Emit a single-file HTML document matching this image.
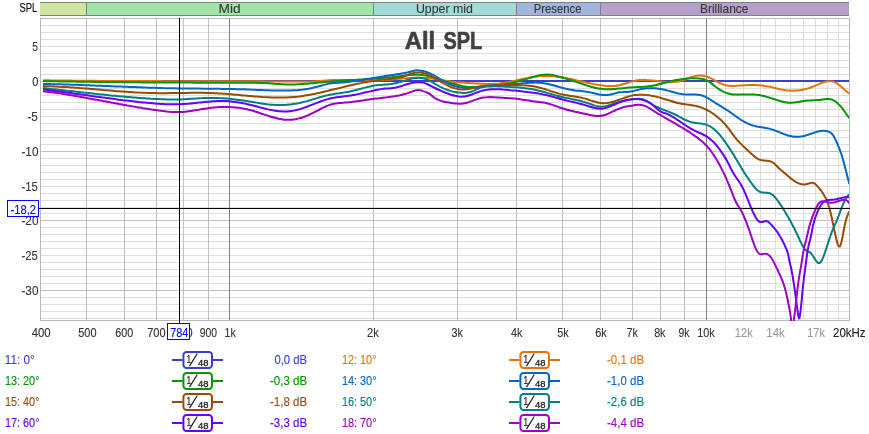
<!DOCTYPE html>
<html lang="en"><head><meta charset="utf-8"><title>All SPL</title>
<style>html,body{margin:0;padding:0;background:#fff;overflow:hidden}svg{display:block}text{font-family:"Liberation Sans", sans-serif;}</style>
</head><body>
<svg width="869" height="434" viewBox="0 0 869 434">
<rect x="0" y="0" width="869" height="434" fill="#ffffff"/>
<g shape-rendering="crispEdges">
<rect x="40" y="2" width="809" height="14" fill="#808080"/>
<rect x="40" y="3" width="46" height="12" fill="#cde89e"/>
<rect x="87" y="3" width="286" height="12" fill="#a0e4a8"/>
<rect x="374" y="3" width="142" height="12" fill="#a0dcd6"/>
<rect x="517" y="3" width="83" height="12" fill="#a0b4dc"/>
<rect x="601" y="3" width="248" height="12" fill="#b4a0c8"/>
</g>
<text x="218.51" y="12.60" font-size="12.20px" fill="#383838" textLength="22.03" lengthAdjust="spacingAndGlyphs" stroke="#383838" stroke-width="0.12">Mid</text>
<text x="415.92" y="12.60" font-size="12.20px" fill="#383838" textLength="56.90" lengthAdjust="spacingAndGlyphs" stroke="#383838" stroke-width="0.12">Upper mid</text>
<text x="533.80" y="12.60" font-size="12.20px" fill="#383838" textLength="47.65" lengthAdjust="spacingAndGlyphs" stroke="#383838" stroke-width="0.12">Presence</text>
<text x="699.94" y="12.60" font-size="12.20px" fill="#383838" textLength="48.46" lengthAdjust="spacingAndGlyphs" stroke="#383838" stroke-width="0.12">Brilliance</text>
<g shape-rendering="crispEdges">
<rect x="41" y="25" width="808" height="1" fill="#dedede"/>
<rect x="41" y="32" width="808" height="1" fill="#dedede"/>
<rect x="41" y="39" width="808" height="1" fill="#dedede"/>
<rect x="41" y="46" width="808" height="1" fill="#dedede"/>
<rect x="41" y="53" width="808" height="1" fill="#dedede"/>
<rect x="41" y="60" width="808" height="1" fill="#dedede"/>
<rect x="41" y="67" width="808" height="1" fill="#dedede"/>
<rect x="41" y="74" width="808" height="1" fill="#dedede"/>
<rect x="41" y="81" width="808" height="1" fill="#c0c0c0"/>
<rect x="41" y="88" width="808" height="1" fill="#dedede"/>
<rect x="41" y="95" width="808" height="1" fill="#dedede"/>
<rect x="41" y="102" width="808" height="1" fill="#dedede"/>
<rect x="41" y="109" width="808" height="1" fill="#dedede"/>
<rect x="41" y="116" width="808" height="1" fill="#dedede"/>
<rect x="41" y="123" width="808" height="1" fill="#dedede"/>
<rect x="41" y="130" width="808" height="1" fill="#dedede"/>
<rect x="41" y="137" width="808" height="1" fill="#dedede"/>
<rect x="41" y="144" width="808" height="1" fill="#dedede"/>
<rect x="41" y="151" width="808" height="1" fill="#c0c0c0"/>
<rect x="41" y="158" width="808" height="1" fill="#dedede"/>
<rect x="41" y="165" width="808" height="1" fill="#dedede"/>
<rect x="41" y="172" width="808" height="1" fill="#dedede"/>
<rect x="41" y="179" width="808" height="1" fill="#dedede"/>
<rect x="41" y="186" width="808" height="1" fill="#dedede"/>
<rect x="41" y="193" width="808" height="1" fill="#dedede"/>
<rect x="41" y="200" width="808" height="1" fill="#dedede"/>
<rect x="41" y="207" width="808" height="1" fill="#dedede"/>
<rect x="41" y="213" width="808" height="1" fill="#dedede"/>
<rect x="41" y="220" width="808" height="1" fill="#c0c0c0"/>
<rect x="41" y="227" width="808" height="1" fill="#dedede"/>
<rect x="41" y="234" width="808" height="1" fill="#dedede"/>
<rect x="41" y="241" width="808" height="1" fill="#dedede"/>
<rect x="41" y="248" width="808" height="1" fill="#dedede"/>
<rect x="41" y="255" width="808" height="1" fill="#dedede"/>
<rect x="41" y="262" width="808" height="1" fill="#dedede"/>
<rect x="41" y="269" width="808" height="1" fill="#dedede"/>
<rect x="41" y="276" width="808" height="1" fill="#dedede"/>
<rect x="41" y="283" width="808" height="1" fill="#dedede"/>
<rect x="41" y="290" width="808" height="1" fill="#c0c0c0"/>
<rect x="41" y="297" width="808" height="1" fill="#dedede"/>
<rect x="41" y="304" width="808" height="1" fill="#dedede"/>
<rect x="41" y="311" width="808" height="1" fill="#dedede"/>
<rect x="41" y="318" width="808" height="1" fill="#dedede"/>
<rect x="86" y="19" width="1" height="301" fill="#c0c0c0"/>
<rect x="124" y="19" width="1" height="301" fill="#c0c0c0"/>
<rect x="156" y="19" width="1" height="301" fill="#c0c0c0"/>
<rect x="183" y="19" width="1" height="301" fill="#c0c0c0"/>
<rect x="208" y="19" width="1" height="301" fill="#c0c0c0"/>
<rect x="229" y="19" width="1" height="301" fill="#808080"/>
<rect x="373" y="19" width="1" height="301" fill="#c0c0c0"/>
<rect x="457" y="19" width="1" height="301" fill="#c0c0c0"/>
<rect x="516" y="19" width="1" height="301" fill="#c0c0c0"/>
<rect x="562" y="19" width="1" height="301" fill="#c0c0c0"/>
<rect x="600" y="19" width="1" height="301" fill="#c0c0c0"/>
<rect x="632" y="19" width="1" height="301" fill="#c0c0c0"/>
<rect x="660" y="19" width="1" height="301" fill="#c0c0c0"/>
<rect x="684" y="19" width="1" height="301" fill="#c0c0c0"/>
<rect x="706" y="19" width="1" height="301" fill="#808080"/>
<rect x="725" y="19" width="1" height="301" fill="#dcdcdc"/>
<rect x="743" y="19" width="1" height="301" fill="#dcdcdc"/>
<rect x="760" y="19" width="1" height="301" fill="#dcdcdc"/>
<rect x="775" y="19" width="1" height="301" fill="#dcdcdc"/>
<rect x="790" y="19" width="1" height="301" fill="#dcdcdc"/>
<rect x="803" y="19" width="1" height="301" fill="#dcdcdc"/>
<rect x="815" y="19" width="1" height="301" fill="#dcdcdc"/>
<rect x="827" y="19" width="1" height="301" fill="#dcdcdc"/>
<rect x="838" y="19" width="1" height="301" fill="#dcdcdc"/>
<rect x="40" y="18" width="810" height="1" fill="#b8b8b8"/>
<rect x="40" y="320" width="810" height="1" fill="#b8b8b8"/>
<rect x="40" y="18" width="1" height="303" fill="#b8b8b8"/>
<rect x="849" y="18" width="1" height="303" fill="#b8b8b8"/>
</g>
<text y="48.8" font-size="24.4px" font-weight="bold" fill="#404040" stroke="#404040" stroke-width="0.6"><tspan x="404.71" textLength="30.41" lengthAdjust="spacingAndGlyphs">All</tspan> <tspan x="443.50" textLength="38.69" lengthAdjust="spacingAndGlyphs">SPL</tspan></text>
<defs><clipPath id="cp"><rect x="41" y="19" width="808" height="302"/></clipPath></defs>
<g clip-path="url(#cp)" fill="none" stroke-width="2" stroke-linejoin="round" stroke-linecap="butt">
<path d="M43 81H849" stroke="#3d3dcf"/>
<path d="M43.0 80.3C44.3 80.3 45.7 80.3 47.0 80.3C48.3 80.3 49.7 80.4 51.0 80.4C52.3 80.4 53.7 80.4 55.0 80.4C56.3 80.5 57.7 80.5 59.0 80.5C60.3 80.5 61.7 80.5 63.0 80.5C64.3 80.6 65.7 80.6 67.0 80.6C68.3 80.6 69.7 80.6 71.0 80.6C72.3 80.6 73.7 80.7 75.0 80.7C76.3 80.7 77.7 80.7 79.0 80.7C80.3 80.7 81.7 80.7 83.0 80.7C84.3 80.8 85.7 80.8 87.0 80.8C88.3 80.8 89.7 80.8 91.0 80.8C92.3 80.8 93.7 80.8 95.0 80.8C96.3 80.9 97.7 80.9 99.0 80.9C100.3 80.9 101.7 80.9 103.0 80.9C104.3 80.9 105.7 80.9 107.0 80.9C108.3 80.9 109.7 80.9 111.0 81.0C112.3 81.0 113.7 81.0 115.0 81.0C116.3 81.0 117.7 81.0 119.0 81.0C120.3 81.0 121.7 81.0 123.0 81.0C124.3 81.0 125.7 81.0 127.0 81.0C128.3 81.0 129.7 81.1 131.0 81.1C132.3 81.1 133.7 81.1 135.0 81.1C136.3 81.1 137.7 81.1 139.0 81.1C140.3 81.1 141.7 81.1 143.0 81.1C144.3 81.1 145.7 81.1 147.0 81.1C148.3 81.1 149.7 81.1 151.0 81.1C152.3 81.1 153.7 81.1 155.0 81.1C156.3 81.1 157.7 81.1 159.0 81.1C160.3 81.1 161.7 81.1 163.0 81.2C164.3 81.2 165.7 81.2 167.0 81.2C168.3 81.2 169.7 81.2 171.0 81.2C172.3 81.2 173.7 81.2 175.0 81.2C176.3 81.2 177.7 81.2 179.0 81.2C180.3 81.2 181.7 81.2 183.0 81.2C184.3 81.2 185.7 81.2 187.0 81.2C188.3 81.2 189.7 81.2 191.0 81.2C192.3 81.2 193.7 81.2 195.0 81.2C196.3 81.2 197.7 81.2 199.0 81.2C200.3 81.2 201.7 81.2 203.0 81.2C204.3 81.2 205.7 81.2 207.0 81.2C208.3 81.2 209.7 81.2 211.0 81.2C212.3 81.2 213.7 81.2 215.0 81.2C216.3 81.2 217.7 81.2 219.0 81.2C220.3 81.2 221.7 81.2 223.0 81.2C224.3 81.2 225.7 81.2 227.0 81.2C228.3 81.2 229.7 81.2 231.0 81.2C232.3 81.2 233.7 81.2 235.0 81.2C236.3 81.3 237.7 81.3 239.0 81.3C240.3 81.3 241.7 81.3 243.0 81.3C244.3 81.3 245.7 81.3 247.0 81.3C248.3 81.3 249.7 81.3 251.0 81.3C252.3 81.3 253.7 81.3 255.0 81.3C256.3 81.3 257.7 81.3 259.0 81.3C260.3 81.3 261.7 81.3 263.0 81.3C264.3 81.4 265.7 81.4 267.0 81.4C268.3 81.4 269.7 81.4 271.0 81.4C272.3 81.4 273.7 81.4 275.0 81.4C276.3 81.5 277.7 81.5 279.0 81.5C280.3 81.5 281.7 81.5 283.0 81.5C284.3 81.5 285.7 81.6 287.0 81.6C288.3 81.6 289.7 81.6 291.0 81.6C292.3 81.6 293.7 81.6 295.0 81.6C296.3 81.6 297.7 81.6 299.0 81.6C300.3 81.6 301.7 81.6 303.0 81.6C304.3 81.6 305.7 81.6 307.0 81.5C308.3 81.5 309.7 81.5 311.0 81.4C312.3 81.4 313.7 81.3 315.0 81.2C316.3 81.2 317.7 81.1 319.0 81.0C320.3 80.9 321.7 80.8 323.0 80.7C324.3 80.6 325.7 80.5 327.0 80.4C328.3 80.3 329.7 80.2 331.0 80.1C332.3 80.0 333.7 80.0 335.0 80.0C336.3 79.9 337.7 79.9 339.0 79.9C340.3 79.9 341.7 79.9 343.0 79.9C344.3 80.0 345.7 80.0 347.0 80.0C348.3 80.0 349.7 80.1 351.0 80.1C352.3 80.2 353.7 80.2 355.0 80.3C356.3 80.3 357.7 80.4 359.0 80.4C360.3 80.4 361.7 80.5 363.0 80.5C364.3 80.5 365.7 80.6 367.0 80.6C368.3 80.6 369.7 80.6 371.0 80.6C372.3 80.6 373.7 80.5 375.0 80.5C376.3 80.5 377.7 80.4 379.0 80.3C380.3 80.3 381.7 80.2 383.0 80.1C384.3 80.0 385.7 79.9 387.0 79.8C388.3 79.7 389.7 79.6 391.0 79.5C392.3 79.4 393.7 79.2 395.0 79.1C396.3 79.0 397.7 78.9 399.0 78.8C400.3 78.7 401.7 78.6 403.0 78.5C404.3 78.4 405.7 78.3 407.0 78.2C408.3 78.1 409.7 78.0 411.0 77.9C412.3 77.9 413.7 77.8 415.0 77.8C416.3 77.7 417.7 77.7 419.0 77.7C420.3 77.7 421.7 77.7 423.0 77.8C424.3 77.8 425.7 77.9 427.0 78.0C428.3 78.1 429.7 78.3 431.0 78.4C432.3 78.6 433.7 78.8 435.0 79.0C436.3 79.2 437.7 79.4 439.0 79.6C440.3 79.8 441.7 80.0 443.0 80.3C444.3 80.5 445.7 80.7 447.0 80.9C448.3 81.1 449.7 81.3 451.0 81.5C452.3 81.6 453.7 81.8 455.0 81.9C456.3 82.1 457.7 82.2 459.0 82.3C460.3 82.4 461.7 82.5 463.0 82.6C464.3 82.7 465.7 82.8 467.0 82.9C468.3 83.0 469.7 83.1 471.0 83.2C472.3 83.3 473.7 83.3 475.0 83.4C476.3 83.5 477.7 83.6 479.0 83.6C480.3 83.7 481.7 83.8 483.0 83.8C484.3 83.9 485.7 83.9 487.0 83.9C488.3 83.9 489.7 83.9 491.0 83.9C492.3 83.9 493.7 83.8 495.0 83.8C496.3 83.7 497.7 83.6 499.0 83.5C500.3 83.3 501.7 83.2 503.0 83.0C504.3 82.8 505.7 82.6 507.0 82.3C508.3 82.1 509.7 81.8 511.0 81.6C512.3 81.3 513.7 81.0 515.0 80.7C516.3 80.4 517.7 80.1 519.0 79.8C520.3 79.5 521.7 79.2 523.0 78.9C524.3 78.6 525.7 78.4 527.0 78.1C528.3 77.8 529.7 77.6 531.0 77.3C532.3 77.1 533.7 76.9 535.0 76.7C536.3 76.5 537.7 76.4 539.0 76.2C540.3 76.1 541.7 76.0 543.0 76.0C544.3 75.9 545.7 75.9 547.0 76.0C548.3 76.0 549.7 76.0 551.0 76.1C552.3 76.2 553.7 76.3 555.0 76.5C556.3 76.6 557.7 76.8 559.0 77.0C560.3 77.2 561.7 77.4 563.0 77.6C564.3 77.8 565.7 78.1 567.0 78.3C568.3 78.6 569.7 78.9 571.0 79.1C572.3 79.4 573.7 79.7 575.0 80.0C576.3 80.3 577.7 80.6 579.0 80.9C580.3 81.2 581.7 81.5 583.0 81.8C584.3 82.1 585.7 82.4 587.0 82.7C588.3 83.0 589.7 83.3 591.0 83.6C592.3 83.8 593.7 84.1 595.0 84.4C596.3 84.6 597.7 84.8 599.0 85.1C600.3 85.3 601.7 85.5 603.0 85.6C604.3 85.8 605.7 85.9 607.0 86.0C608.3 86.1 609.7 86.1 611.0 86.1C612.3 86.1 613.7 86.0 615.0 85.9C616.3 85.8 617.7 85.6 619.0 85.3C620.3 85.0 621.7 84.7 623.0 84.3C624.3 83.9 625.7 83.5 627.0 83.0C628.3 82.6 629.7 82.1 631.0 81.7C632.3 81.3 633.7 80.9 635.0 80.7C636.3 80.4 637.7 80.2 639.0 80.1C640.3 79.9 641.7 79.9 643.0 79.9C644.3 79.8 645.7 79.9 647.0 80.0C648.3 80.0 649.7 80.1 651.0 80.3C652.3 80.4 653.7 80.6 655.0 80.7C656.3 80.9 657.7 81.1 659.0 81.2C660.3 81.4 661.7 81.5 663.0 81.7C664.3 81.8 665.7 81.9 667.0 82.0C668.3 82.1 669.7 82.1 671.0 82.1C672.3 82.1 673.7 82.1 675.0 81.9C676.3 81.8 677.7 81.6 679.0 81.4C680.3 81.1 681.7 80.8 683.0 80.3C684.3 79.9 685.7 79.4 687.0 78.8C688.3 78.3 689.7 77.8 691.0 77.3C692.3 76.8 693.7 76.4 695.0 76.1C696.3 75.8 697.7 75.6 699.0 75.6C700.3 75.6 701.7 75.6 703.0 75.8C703.7 75.9 704.3 76.1 705.0 76.2C705.7 76.4 706.3 76.6 707.0 76.8C707.7 77.0 708.3 77.2 709.0 77.5C709.7 77.8 710.3 78.1 711.0 78.4C711.7 78.7 712.3 79.1 713.0 79.4C713.7 79.8 714.3 80.1 715.0 80.5C715.7 80.9 716.3 81.2 717.0 81.6C717.7 82.0 718.3 82.3 719.0 82.7C719.7 83.0 720.3 83.3 721.0 83.6C721.7 83.9 722.3 84.2 723.0 84.4C723.7 84.7 724.3 84.9 725.0 85.1C725.7 85.2 726.3 85.4 727.0 85.5C727.7 85.6 728.3 85.7 729.0 85.7C729.7 85.8 730.3 85.9 731.0 85.9C731.7 85.9 732.3 85.9 733.0 85.9C733.7 85.9 734.3 85.9 735.0 85.9C735.7 85.8 736.3 85.8 737.0 85.7C737.7 85.7 738.3 85.7 739.0 85.6C739.7 85.6 740.3 85.5 741.0 85.5C741.7 85.4 742.3 85.4 743.0 85.3C743.7 85.3 744.3 85.2 745.0 85.2C745.7 85.1 746.3 85.1 747.0 85.1C747.7 85.0 748.3 85.0 749.0 85.0C749.7 85.0 750.3 85.0 751.0 84.9C751.7 84.9 752.3 84.9 753.0 84.9C753.7 84.9 754.3 84.9 755.0 85.0C755.7 85.0 756.3 85.0 757.0 85.1C757.7 85.1 758.3 85.1 759.0 85.2C759.7 85.3 760.3 85.3 761.0 85.4C761.7 85.5 762.3 85.5 763.0 85.6C763.7 85.7 764.3 85.8 765.0 85.9C765.7 86.0 766.3 86.1 767.0 86.3C767.7 86.4 768.3 86.5 769.0 86.6C769.7 86.8 770.3 86.9 771.0 87.0C771.3 87.1 771.7 87.2 772.0 87.3C772.3 87.3 772.7 87.4 773.0 87.5C773.3 87.6 773.7 87.7 774.0 87.7C774.3 87.8 774.7 87.9 775.0 88.0C775.3 88.1 775.7 88.1 776.0 88.2C776.3 88.3 776.7 88.4 777.0 88.5C777.3 88.5 777.7 88.6 778.0 88.7C778.3 88.8 778.7 88.9 779.0 88.9C779.3 89.0 779.7 89.1 780.0 89.2C780.3 89.2 780.7 89.3 781.0 89.4C781.3 89.5 781.7 89.5 782.0 89.6C782.3 89.7 782.7 89.7 783.0 89.8C783.3 89.8 783.7 89.9 784.0 90.0C784.3 90.0 784.7 90.1 785.0 90.1C785.3 90.2 785.7 90.2 786.0 90.3C786.3 90.3 786.7 90.3 787.0 90.4C787.3 90.4 787.7 90.5 788.0 90.5C788.3 90.5 788.7 90.5 789.0 90.6C789.3 90.6 789.7 90.6 790.0 90.6C790.3 90.6 790.7 90.7 791.0 90.7C791.3 90.7 791.7 90.7 792.0 90.7C792.3 90.7 792.7 90.7 793.0 90.7C793.3 90.7 793.7 90.7 794.0 90.7C794.3 90.7 794.7 90.6 795.0 90.6C795.3 90.6 795.7 90.6 796.0 90.6C796.3 90.5 796.7 90.5 797.0 90.5C797.3 90.5 797.7 90.4 798.0 90.4C798.3 90.4 798.7 90.3 799.0 90.3C799.3 90.2 799.7 90.2 800.0 90.1C800.3 90.1 800.7 90.0 801.0 90.0C801.3 89.9 801.7 89.9 802.0 89.8C802.3 89.8 802.7 89.7 803.0 89.6C803.3 89.6 803.7 89.5 804.0 89.4C804.3 89.3 804.7 89.3 805.0 89.2C805.3 89.1 805.7 89.0 806.0 88.9C806.3 88.8 806.7 88.7 807.0 88.7C807.3 88.6 807.7 88.5 808.0 88.4C808.3 88.3 808.7 88.2 809.0 88.1C809.3 87.9 809.7 87.8 810.0 87.7C810.3 87.6 810.7 87.5 811.0 87.4C811.3 87.3 811.7 87.1 812.0 87.0C812.3 86.9 812.7 86.8 813.0 86.6C813.3 86.5 813.7 86.4 814.0 86.2C814.3 86.1 814.7 85.9 815.0 85.8C815.3 85.7 815.7 85.5 816.0 85.4C816.3 85.2 816.7 85.1 817.0 84.9C817.3 84.8 817.7 84.6 818.0 84.5C818.3 84.3 818.7 84.2 819.0 84.1C819.3 83.9 819.7 83.8 820.0 83.6C820.3 83.5 820.7 83.4 821.0 83.2C821.3 83.1 821.7 83.0 822.0 82.8C822.3 82.7 822.7 82.6 823.0 82.5C823.3 82.4 823.7 82.3 824.0 82.2C824.3 82.1 824.7 82.0 825.0 81.9C825.3 81.8 825.7 81.7 826.0 81.6C826.3 81.6 826.7 81.5 827.0 81.4C827.3 81.4 827.7 81.3 828.0 81.3C828.3 81.3 828.7 81.2 829.0 81.2C829.3 81.2 829.7 81.2 830.0 81.2C830.3 81.2 830.7 81.2 831.0 81.3C831.3 81.3 831.7 81.3 832.0 81.4C832.3 81.5 832.7 81.5 833.0 81.6C833.3 81.7 833.7 81.8 834.0 81.9C834.3 82.0 834.7 82.2 835.0 82.3C835.3 82.5 835.7 82.6 836.0 82.8C836.3 83.0 836.7 83.2 837.0 83.4C837.3 83.6 837.7 83.8 838.0 84.1C838.3 84.3 838.7 84.6 839.0 84.8C839.3 85.1 839.7 85.4 840.0 85.6C840.3 85.9 840.7 86.2 841.0 86.5C841.3 86.8 841.7 87.1 842.0 87.4C842.3 87.7 842.7 88.0 843.0 88.3C843.3 88.6 843.7 88.9 844.0 89.2C844.3 89.5 844.7 89.8 845.0 90.1C845.3 90.4 845.7 90.7 846.0 91.0C846.3 91.3 846.7 91.6 847.0 91.8C847.3 92.1 847.7 92.4 848.0 92.7C848.3 92.9 848.7 93.2 849.0 93.4C849.1 93.5 849.2 93.6 849.3 93.6" stroke="#e8730a"/>
<path d="M43.0 81.1C44.3 81.1 45.7 81.2 47.0 81.2C48.3 81.2 49.7 81.2 51.0 81.2C52.3 81.3 53.7 81.3 55.0 81.3C56.3 81.3 57.7 81.4 59.0 81.4C60.3 81.4 61.7 81.4 63.0 81.4C64.3 81.5 65.7 81.5 67.0 81.5C68.3 81.5 69.7 81.5 71.0 81.6C72.3 81.6 73.7 81.6 75.0 81.6C76.3 81.6 77.7 81.7 79.0 81.7C80.3 81.7 81.7 81.7 83.0 81.7C84.3 81.8 85.7 81.8 87.0 81.8C88.3 81.8 89.7 81.8 91.0 81.8C92.3 81.9 93.7 81.9 95.0 81.9C96.3 81.9 97.7 81.9 99.0 81.9C100.3 82.0 101.7 82.0 103.0 82.0C104.3 82.0 105.7 82.0 107.0 82.0C108.3 82.0 109.7 82.1 111.0 82.1C112.3 82.1 113.7 82.1 115.0 82.1C116.3 82.1 117.7 82.1 119.0 82.1C120.3 82.2 121.7 82.2 123.0 82.2C124.3 82.2 125.7 82.2 127.0 82.2C128.3 82.2 129.7 82.2 131.0 82.3C132.3 82.3 133.7 82.3 135.0 82.3C136.3 82.3 137.7 82.3 139.0 82.3C140.3 82.3 141.7 82.3 143.0 82.4C144.3 82.4 145.7 82.4 147.0 82.4C148.3 82.4 149.7 82.4 151.0 82.4C152.3 82.4 153.7 82.4 155.0 82.4C156.3 82.4 157.7 82.5 159.0 82.5C160.3 82.5 161.7 82.5 163.0 82.5C164.3 82.5 165.7 82.5 167.0 82.5C168.3 82.5 169.7 82.5 171.0 82.5C172.3 82.5 173.7 82.6 175.0 82.6C176.3 82.6 177.7 82.6 179.0 82.6C180.3 82.6 181.7 82.6 183.0 82.6C184.3 82.6 185.7 82.6 187.0 82.6C188.3 82.6 189.7 82.6 191.0 82.6C192.3 82.6 193.7 82.6 195.0 82.7C196.3 82.7 197.7 82.7 199.0 82.7C200.3 82.7 201.7 82.7 203.0 82.7C204.3 82.7 205.7 82.7 207.0 82.7C208.3 82.7 209.7 82.7 211.0 82.7C212.3 82.7 213.7 82.7 215.0 82.7C216.3 82.7 217.7 82.7 219.0 82.7C220.3 82.7 221.7 82.8 223.0 82.8C224.3 82.8 225.7 82.8 227.0 82.8C228.3 82.8 229.7 82.8 231.0 82.8C232.3 82.8 233.7 82.8 235.0 82.8C236.3 82.8 237.7 82.8 239.0 82.8C240.3 82.8 241.7 82.8 243.0 82.8C244.3 82.8 245.7 82.8 247.0 82.8C248.3 82.8 249.7 82.8 251.0 82.8C252.3 82.8 253.7 82.8 255.0 82.8C256.3 82.9 257.7 82.9 259.0 82.9C260.3 82.9 261.7 82.9 263.0 83.0C264.3 83.0 265.7 83.1 267.0 83.1C268.3 83.2 269.7 83.3 271.0 83.4C272.3 83.5 273.7 83.6 275.0 83.8C276.3 83.9 277.7 84.0 279.0 84.1C280.3 84.2 281.7 84.3 283.0 84.3C284.3 84.4 285.7 84.4 287.0 84.4C288.3 84.5 289.7 84.5 291.0 84.5C292.3 84.4 293.7 84.4 295.0 84.4C296.3 84.3 297.7 84.3 299.0 84.2C300.3 84.1 301.7 84.1 303.0 84.0C304.3 83.9 305.7 83.8 307.0 83.7C308.3 83.6 309.7 83.5 311.0 83.3C312.3 83.2 313.7 83.1 315.0 83.0C316.3 82.9 317.7 82.7 319.0 82.6C320.3 82.5 321.7 82.3 323.0 82.2C324.3 82.1 325.7 82.0 327.0 81.8C328.3 81.7 329.7 81.6 331.0 81.5C332.3 81.4 333.7 81.3 335.0 81.2C336.3 81.1 337.7 81.0 339.0 80.9C340.3 80.8 341.7 80.7 343.0 80.6C344.3 80.5 345.7 80.4 347.0 80.3C348.3 80.2 349.7 80.2 351.0 80.1C352.3 80.0 353.7 79.9 355.0 79.9C356.3 79.8 357.7 79.7 359.0 79.6C360.3 79.5 361.7 79.5 363.0 79.4C364.3 79.3 365.7 79.2 367.0 79.1C368.3 79.1 369.7 79.0 371.0 78.9C372.3 78.8 373.7 78.7 375.0 78.6C376.3 78.5 377.7 78.4 379.0 78.3C380.3 78.2 381.7 78.1 383.0 78.0C384.3 77.9 385.7 77.7 387.0 77.6C388.3 77.5 389.7 77.3 391.0 77.2C392.3 77.0 393.7 76.9 395.0 76.7C396.3 76.6 397.7 76.4 399.0 76.2C400.3 76.0 401.7 75.9 403.0 75.7C404.3 75.5 405.7 75.4 407.0 75.2C408.3 75.1 409.7 75.0 411.0 74.9C412.3 74.8 413.7 74.7 415.0 74.7C416.3 74.7 417.7 74.7 419.0 74.8C420.3 74.8 421.7 74.9 423.0 75.1C424.3 75.3 425.7 75.5 427.0 75.8C428.3 76.1 429.7 76.4 431.0 76.8C432.3 77.2 433.7 77.6 435.0 78.0C436.3 78.4 437.7 78.9 439.0 79.3C440.3 79.8 441.7 80.2 443.0 80.6C444.3 81.1 445.7 81.5 447.0 81.9C448.3 82.4 449.7 82.8 451.0 83.2C452.3 83.6 453.7 83.9 455.0 84.3C456.3 84.7 457.7 85.0 459.0 85.3C460.3 85.6 461.7 85.9 463.0 86.2C464.3 86.4 465.7 86.6 467.0 86.8C468.3 86.9 469.7 87.0 471.0 87.0C472.3 87.0 473.7 87.0 475.0 86.9C476.3 86.8 477.7 86.7 479.0 86.5C480.3 86.4 481.7 86.3 483.0 86.2C484.3 86.1 485.7 86.0 487.0 85.9C488.3 85.8 489.7 85.7 491.0 85.6C492.3 85.5 493.7 85.4 495.0 85.3C496.3 85.2 497.7 85.1 499.0 85.0C500.3 84.8 501.7 84.7 503.0 84.5C504.3 84.3 505.7 84.1 507.0 83.8C508.3 83.6 509.7 83.4 511.0 83.1C512.3 82.8 513.7 82.5 515.0 82.2C516.3 81.8 517.7 81.5 519.0 81.1C520.3 80.8 521.7 80.4 523.0 80.0C524.3 79.6 525.7 79.2 527.0 78.8C528.3 78.4 529.7 77.9 531.0 77.5C532.3 77.1 533.7 76.7 535.0 76.4C536.3 76.0 537.7 75.7 539.0 75.4C540.3 75.1 541.7 74.9 543.0 74.8C544.3 74.6 545.7 74.5 547.0 74.5C548.3 74.5 549.7 74.6 551.0 74.8C552.3 75.0 553.7 75.3 555.0 75.6C556.3 75.9 557.7 76.3 559.0 76.6C560.3 77.0 561.7 77.4 563.0 77.8C564.3 78.2 565.7 78.6 567.0 79.0C568.3 79.4 569.7 79.8 571.0 80.2C572.3 80.7 573.7 81.1 575.0 81.5C576.3 81.9 577.7 82.4 579.0 82.8C580.3 83.3 581.7 83.8 583.0 84.2C584.3 84.6 585.7 85.1 587.0 85.5C588.3 85.9 589.7 86.3 591.0 86.7C592.3 87.1 593.7 87.4 595.0 87.8C596.3 88.1 597.7 88.3 599.0 88.6C600.3 88.8 601.7 89.0 603.0 89.1C604.3 89.2 605.7 89.2 607.0 89.3C608.3 89.3 609.7 89.3 611.0 89.2C612.3 89.1 613.7 89.1 615.0 89.0C616.3 88.8 617.7 88.7 619.0 88.6C620.3 88.4 621.7 88.3 623.0 88.2C624.3 88.0 625.7 87.9 627.0 87.7C628.3 87.6 629.7 87.5 631.0 87.4C632.3 87.3 633.7 87.3 635.0 87.2C636.3 87.1 637.7 87.1 639.0 87.0C640.3 86.9 641.7 86.9 643.0 86.8C644.3 86.7 645.7 86.6 647.0 86.5C648.3 86.4 649.7 86.2 651.0 86.0C652.3 85.8 653.7 85.6 655.0 85.3C656.3 85.0 657.7 84.7 659.0 84.3C660.3 84.0 661.7 83.6 663.0 83.2C664.3 82.9 665.7 82.5 667.0 82.2C668.3 81.8 669.7 81.5 671.0 81.2C672.3 80.9 673.7 80.6 675.0 80.3C676.3 80.0 677.7 79.8 679.0 79.6C680.3 79.3 681.7 79.2 683.0 79.0C684.3 78.8 685.7 78.7 687.0 78.5C688.3 78.4 689.7 78.3 691.0 78.3C692.3 78.2 693.7 78.2 695.0 78.2C696.3 78.2 697.7 78.3 699.0 78.4C700.3 78.5 701.7 78.7 703.0 79.1C703.7 79.2 704.3 79.4 705.0 79.7C705.7 79.9 706.3 80.2 707.0 80.6C707.7 80.9 708.3 81.3 709.0 81.7C709.7 82.1 710.3 82.6 711.0 83.1C711.7 83.6 712.3 84.1 713.0 84.6C713.7 85.1 714.3 85.6 715.0 86.2C715.7 86.7 716.3 87.2 717.0 87.7C717.7 88.2 718.3 88.7 719.0 89.2C719.7 89.6 720.3 90.0 721.0 90.4C721.7 90.8 722.3 91.2 723.0 91.5C723.7 91.9 724.3 92.2 725.0 92.4C725.7 92.7 726.3 93.0 727.0 93.2C727.7 93.4 728.3 93.6 729.0 93.7C729.7 93.9 730.3 94.0 731.0 94.2C731.7 94.3 732.3 94.4 733.0 94.4C733.7 94.5 734.3 94.5 735.0 94.6C735.7 94.6 736.3 94.6 737.0 94.6C737.7 94.7 738.3 94.7 739.0 94.6C739.7 94.6 740.3 94.6 741.0 94.6C741.7 94.6 742.3 94.6 743.0 94.5C743.7 94.5 744.3 94.5 745.0 94.5C745.7 94.5 746.3 94.4 747.0 94.4C747.7 94.4 748.3 94.4 749.0 94.4C749.7 94.4 750.3 94.4 751.0 94.4C751.7 94.4 752.3 94.4 753.0 94.5C753.7 94.5 754.3 94.5 755.0 94.6C755.7 94.6 756.3 94.7 757.0 94.8C757.7 94.8 758.3 94.9 759.0 95.0C759.7 95.1 760.3 95.2 761.0 95.4C761.7 95.5 762.3 95.6 763.0 95.8C763.7 96.0 764.3 96.1 765.0 96.3C765.7 96.5 766.3 96.7 767.0 96.9C767.7 97.1 768.3 97.3 769.0 97.5C769.7 97.7 770.3 97.9 771.0 98.1C771.3 98.2 771.7 98.3 772.0 98.4C772.3 98.6 772.7 98.7 773.0 98.8C773.3 98.9 773.7 99.0 774.0 99.1C774.3 99.2 774.7 99.3 775.0 99.4C775.3 99.6 775.7 99.7 776.0 99.8C776.3 99.9 776.7 100.0 777.0 100.1C777.3 100.2 777.7 100.3 778.0 100.4C778.3 100.5 778.7 100.6 779.0 100.7C779.3 100.8 779.7 100.9 780.0 101.0C780.3 101.1 780.7 101.2 781.0 101.3C781.3 101.4 781.7 101.5 782.0 101.6C782.3 101.7 782.7 101.7 783.0 101.8C783.3 101.9 783.7 102.0 784.0 102.0C784.3 102.1 784.7 102.2 785.0 102.2C785.3 102.3 785.7 102.4 786.0 102.4C786.3 102.5 786.7 102.5 787.0 102.5C787.3 102.6 787.7 102.6 788.0 102.7C788.3 102.7 788.7 102.7 789.0 102.7C789.3 102.7 789.7 102.8 790.0 102.8C790.3 102.8 790.7 102.8 791.0 102.8C791.3 102.8 791.7 102.7 792.0 102.7C792.3 102.7 792.7 102.7 793.0 102.6C793.3 102.6 793.7 102.6 794.0 102.5C794.3 102.5 794.7 102.5 795.0 102.4C795.3 102.4 795.7 102.3 796.0 102.3C796.3 102.2 796.7 102.2 797.0 102.1C797.3 102.1 797.7 102.0 798.0 101.9C798.3 101.9 798.7 101.8 799.0 101.8C799.3 101.7 799.7 101.7 800.0 101.6C800.3 101.5 800.7 101.5 801.0 101.4C801.3 101.4 801.7 101.3 802.0 101.2C802.3 101.2 802.7 101.1 803.0 101.1C803.3 101.0 803.7 101.0 804.0 100.9C804.3 100.9 804.7 100.9 805.0 100.8C805.3 100.8 805.7 100.8 806.0 100.7C806.3 100.7 806.7 100.7 807.0 100.6C807.3 100.6 807.7 100.6 808.0 100.6C808.3 100.5 808.7 100.5 809.0 100.5C809.3 100.5 809.7 100.5 810.0 100.4C810.3 100.4 810.7 100.4 811.0 100.4C811.3 100.4 811.7 100.4 812.0 100.3C812.3 100.3 812.7 100.3 813.0 100.3C813.3 100.3 813.7 100.3 814.0 100.2C814.3 100.2 814.7 100.2 815.0 100.2C815.3 100.2 815.7 100.2 816.0 100.2C816.3 100.1 816.7 100.1 817.0 100.1C817.3 100.1 817.7 100.1 818.0 100.0C818.3 100.0 818.7 100.0 819.0 99.9C819.3 99.9 819.7 99.9 820.0 99.9C820.3 99.8 820.7 99.8 821.0 99.7C821.3 99.7 821.7 99.7 822.0 99.6C822.3 99.6 822.7 99.5 823.0 99.5C823.3 99.4 823.7 99.4 824.0 99.3C824.3 99.3 824.7 99.3 825.0 99.2C825.3 99.2 825.7 99.2 826.0 99.1C826.3 99.1 826.7 99.1 827.0 99.1C827.3 99.1 827.7 99.1 828.0 99.1C828.3 99.1 828.7 99.1 829.0 99.1C829.3 99.1 829.7 99.2 830.0 99.2C830.3 99.3 830.7 99.3 831.0 99.4C831.3 99.5 831.7 99.6 832.0 99.7C832.3 99.8 832.7 99.9 833.0 100.1C833.3 100.2 833.7 100.4 834.0 100.6C834.3 100.7 834.7 100.9 835.0 101.2C835.3 101.4 835.7 101.6 836.0 101.9C836.3 102.1 836.7 102.4 837.0 102.7C837.3 103.0 837.7 103.3 838.0 103.6C838.3 103.9 838.7 104.2 839.0 104.6C839.3 104.9 839.7 105.3 840.0 105.6C840.3 106.0 840.7 106.4 841.0 106.8C841.3 107.2 841.7 107.6 842.0 108.0C842.3 108.5 842.7 108.9 843.0 109.4C843.3 109.8 843.7 110.3 844.0 110.7C844.3 111.2 844.7 111.6 845.0 112.1C845.3 112.6 845.7 113.1 846.0 113.5C846.3 114.0 846.7 114.5 847.0 114.9C847.3 115.4 847.7 115.9 848.0 116.3C848.3 116.8 848.7 117.3 849.0 117.7C849.1 117.8 849.2 118.0 849.3 118.1" stroke="#009900"/>
<path d="M43.0 83.9C44.3 83.9 45.7 83.9 47.0 84.0C48.3 84.0 49.7 84.0 51.0 84.1C52.3 84.1 53.7 84.1 55.0 84.2C56.3 84.2 57.7 84.2 59.0 84.3C60.3 84.3 61.7 84.4 63.0 84.4C64.3 84.4 65.7 84.5 67.0 84.5C68.3 84.6 69.7 84.6 71.0 84.7C72.3 84.7 73.7 84.8 75.0 84.8C76.3 84.8 77.7 84.9 79.0 84.9C80.3 85.0 81.7 85.0 83.0 85.1C84.3 85.1 85.7 85.2 87.0 85.2C88.3 85.3 89.7 85.3 91.0 85.4C92.3 85.4 93.7 85.5 95.0 85.6C96.3 85.6 97.7 85.7 99.0 85.7C100.3 85.8 101.7 85.8 103.0 85.9C104.3 85.9 105.7 86.0 107.0 86.0C108.3 86.1 109.7 86.1 111.0 86.2C112.3 86.3 113.7 86.3 115.0 86.4C116.3 86.4 117.7 86.5 119.0 86.5C120.3 86.6 121.7 86.6 123.0 86.7C124.3 86.7 125.7 86.8 127.0 86.8C128.3 86.9 129.7 86.9 131.0 87.0C132.3 87.0 133.7 87.1 135.0 87.1C136.3 87.2 137.7 87.2 139.0 87.3C140.3 87.3 141.7 87.4 143.0 87.4C144.3 87.5 145.7 87.5 147.0 87.6C148.3 87.6 149.7 87.7 151.0 87.7C152.3 87.7 153.7 87.8 155.0 87.8C156.3 87.9 157.7 87.9 159.0 87.9C160.3 88.0 161.7 88.0 163.0 88.1C164.3 88.1 165.7 88.1 167.0 88.2C168.3 88.2 169.7 88.2 171.0 88.2C172.3 88.3 173.7 88.3 175.0 88.3C176.3 88.4 177.7 88.4 179.0 88.4C180.3 88.4 181.7 88.4 183.0 88.5C184.3 88.5 185.7 88.5 187.0 88.5C188.3 88.5 189.7 88.6 191.0 88.6C192.3 88.6 193.7 88.6 195.0 88.6C196.3 88.6 197.7 88.6 199.0 88.6C200.3 88.7 201.7 88.7 203.0 88.7C204.3 88.7 205.7 88.7 207.0 88.7C208.3 88.7 209.7 88.7 211.0 88.8C212.3 88.8 213.7 88.8 215.0 88.8C216.3 88.8 217.7 88.8 219.0 88.8C220.3 88.9 221.7 88.9 223.0 88.9C224.3 88.9 225.7 88.9 227.0 88.9C228.3 89.0 229.7 89.0 231.0 89.0C232.3 89.0 233.7 89.1 235.0 89.1C236.3 89.1 237.7 89.2 239.0 89.2C240.3 89.2 241.7 89.3 243.0 89.3C244.3 89.3 245.7 89.4 247.0 89.4C248.3 89.5 249.7 89.5 251.0 89.6C252.3 89.6 253.7 89.7 255.0 89.7C256.3 89.8 257.7 89.9 259.0 89.9C260.3 90.0 261.7 90.0 263.0 90.1C264.3 90.1 265.7 90.2 267.0 90.2C268.3 90.3 269.7 90.3 271.0 90.4C272.3 90.4 273.7 90.5 275.0 90.5C276.3 90.5 277.7 90.5 279.0 90.6C280.3 90.6 281.7 90.6 283.0 90.6C284.3 90.6 285.7 90.6 287.0 90.5C288.3 90.5 289.7 90.5 291.0 90.4C292.3 90.4 293.7 90.3 295.0 90.3C296.3 90.2 297.7 90.1 299.0 90.0C300.3 89.9 301.7 89.7 303.0 89.6C304.3 89.4 305.7 89.2 307.0 89.0C308.3 88.8 309.7 88.5 311.0 88.2C312.3 88.0 313.7 87.7 315.0 87.3C316.3 87.0 317.7 86.6 319.0 86.3C320.3 85.9 321.7 85.5 323.0 85.1C324.3 84.8 325.7 84.4 327.0 84.1C328.3 83.8 329.7 83.5 331.0 83.3C332.3 83.2 333.7 83.0 335.0 82.9C336.3 82.8 337.7 82.8 339.0 82.7C340.3 82.6 341.7 82.5 343.0 82.4C344.3 82.3 345.7 82.1 347.0 82.0C348.3 81.8 349.7 81.7 351.0 81.5C352.3 81.3 353.7 81.1 355.0 80.9C356.3 80.7 357.7 80.5 359.0 80.3C360.3 80.1 361.7 79.9 363.0 79.7C364.3 79.4 365.7 79.2 367.0 79.0C368.3 78.8 369.7 78.6 371.0 78.4C372.3 78.2 373.7 77.9 375.0 77.7C376.3 77.5 377.7 77.3 379.0 77.1C380.3 76.9 381.7 76.6 383.0 76.4C384.3 76.2 385.7 76.0 387.0 75.8C388.3 75.6 389.7 75.4 391.0 75.2C392.3 75.0 393.7 74.8 395.0 74.6C396.3 74.4 397.7 74.2 399.0 74.0C400.3 73.8 401.7 73.6 403.0 73.3C404.3 73.1 405.7 72.8 407.0 72.6C408.3 72.3 409.7 71.9 411.0 71.5C412.3 71.2 413.7 70.8 415.0 70.6C416.3 70.4 417.7 70.3 419.0 70.4C420.3 70.5 421.7 70.7 423.0 70.9C424.3 71.2 425.7 71.7 427.0 72.2C428.3 72.7 429.7 73.3 431.0 73.9C432.3 74.6 433.7 75.3 435.0 76.0C436.3 76.8 437.7 77.6 439.0 78.4C440.3 79.2 441.7 79.9 443.0 80.7C444.3 81.5 445.7 82.2 447.0 82.9C448.3 83.6 449.7 84.2 451.0 84.7C452.3 85.3 453.7 85.8 455.0 86.2C456.3 86.5 457.7 86.9 459.0 87.1C460.3 87.4 461.7 87.6 463.0 87.7C464.3 87.9 465.7 88.0 467.0 88.0C468.3 88.0 469.7 88.0 471.0 87.9C472.3 87.8 473.7 87.7 475.0 87.6C476.3 87.4 477.7 87.2 479.0 87.0C480.3 86.8 481.7 86.6 483.0 86.4C484.3 86.2 485.7 86.0 487.0 85.8C488.3 85.6 489.7 85.5 491.0 85.4C492.3 85.3 493.7 85.2 495.0 85.1C496.3 85.0 497.7 84.9 499.0 84.9C500.3 84.8 501.7 84.8 503.0 84.7C504.3 84.7 505.7 84.6 507.0 84.6C508.3 84.5 509.7 84.4 511.0 84.3C512.3 84.3 513.7 84.1 515.0 84.0C516.3 83.9 517.7 83.8 519.0 83.7C520.3 83.6 521.7 83.4 523.0 83.3C524.3 83.2 525.7 83.1 527.0 83.0C528.3 82.9 529.7 82.8 531.0 82.7C532.3 82.7 533.7 82.6 535.0 82.6C536.3 82.6 537.7 82.6 539.0 82.7C540.3 82.8 541.7 82.9 543.0 83.1C544.3 83.3 545.7 83.5 547.0 83.8C548.3 84.1 549.7 84.4 551.0 84.7C552.3 85.1 553.7 85.4 555.0 85.8C556.3 86.2 557.7 86.6 559.0 86.9C560.3 87.3 561.7 87.7 563.0 88.0C564.3 88.3 565.7 88.7 567.0 89.0C568.3 89.3 569.7 89.6 571.0 89.8C572.3 90.1 573.7 90.3 575.0 90.4C576.3 90.6 577.7 90.7 579.0 90.8C580.3 90.9 581.7 91.0 583.0 91.2C584.3 91.3 585.7 91.5 587.0 91.8C588.3 92.0 589.7 92.3 591.0 92.6C592.3 92.9 593.7 93.2 595.0 93.5C596.3 93.8 597.7 94.1 599.0 94.4C600.3 94.6 601.7 94.8 603.0 94.9C604.3 95.0 605.7 95.1 607.0 95.0C608.3 94.9 609.7 94.8 611.0 94.5C612.3 94.2 613.7 93.8 615.0 93.4C616.3 93.0 617.7 92.6 619.0 92.3C620.3 92.0 621.7 91.9 623.0 91.9C624.3 91.8 625.7 91.9 627.0 91.9C628.3 91.9 629.7 91.8 631.0 91.6C632.3 91.4 633.7 91.0 635.0 90.6C636.3 90.2 637.7 89.9 639.0 89.6C640.3 89.2 641.7 89.0 643.0 88.8C644.3 88.6 645.7 88.4 647.0 88.3C648.3 88.2 649.7 88.2 651.0 88.2C652.3 88.2 653.7 88.2 655.0 88.3C656.3 88.4 657.7 88.6 659.0 88.7C660.3 88.9 661.7 89.2 663.0 89.4C664.3 89.7 665.7 90.0 667.0 90.4C668.3 90.7 669.7 91.1 671.0 91.5C672.3 91.9 673.7 92.2 675.0 92.6C676.3 93.0 677.7 93.3 679.0 93.6C680.3 93.9 681.7 94.1 683.0 94.3C684.3 94.4 685.7 94.5 687.0 94.5C688.3 94.5 689.7 94.5 691.0 94.4C692.3 94.4 693.7 94.4 695.0 94.4C696.3 94.5 697.7 94.6 699.0 94.8C700.3 95.0 701.7 95.3 703.0 95.8C703.7 96.0 704.3 96.3 705.0 96.6C705.7 96.9 706.3 97.3 707.0 97.7C707.7 98.0 708.3 98.4 709.0 98.8C709.7 99.2 710.3 99.6 711.0 100.0C711.7 100.5 712.3 100.9 713.0 101.3C713.7 101.8 714.3 102.2 715.0 102.6C715.7 103.1 716.3 103.5 717.0 103.9C717.7 104.3 718.3 104.7 719.0 105.1C719.7 105.5 720.3 106.0 721.0 106.4C721.7 106.8 722.3 107.2 723.0 107.6C723.7 108.0 724.3 108.4 725.0 108.8C725.7 109.2 726.3 109.7 727.0 110.1C727.7 110.5 728.3 111.0 729.0 111.4C729.7 111.9 730.3 112.3 731.0 112.8C731.7 113.3 732.3 113.8 733.0 114.2C733.7 114.7 734.3 115.2 735.0 115.7C735.7 116.2 736.3 116.7 737.0 117.1C737.7 117.6 738.3 118.1 739.0 118.5C739.7 119.0 740.3 119.4 741.0 119.9C741.7 120.3 742.3 120.7 743.0 121.1C743.7 121.5 744.3 121.9 745.0 122.2C745.7 122.6 746.3 122.9 747.0 123.2C747.7 123.5 748.3 123.8 749.0 124.1C749.7 124.4 750.3 124.6 751.0 124.9C751.7 125.1 752.3 125.3 753.0 125.5C753.7 125.7 754.3 125.9 755.0 126.0C755.7 126.2 756.3 126.3 757.0 126.5C757.7 126.6 758.3 126.7 759.0 126.9C759.7 127.0 760.3 127.1 761.0 127.2C761.7 127.3 762.3 127.4 763.0 127.5C763.7 127.6 764.3 127.7 765.0 127.8C765.7 127.9 766.3 128.1 767.0 128.2C767.7 128.3 768.3 128.5 769.0 128.6C769.7 128.8 770.3 129.0 771.0 129.2C771.3 129.2 771.7 129.4 772.0 129.5C772.3 129.6 772.7 129.7 773.0 129.8C773.3 129.9 773.7 130.0 774.0 130.1C774.3 130.3 774.7 130.4 775.0 130.5C775.3 130.6 775.7 130.8 776.0 130.9C776.3 131.0 776.7 131.1 777.0 131.3C777.3 131.4 777.7 131.5 778.0 131.7C778.3 131.8 778.7 131.9 779.0 132.1C779.3 132.2 779.7 132.4 780.0 132.5C780.3 132.6 780.7 132.8 781.0 132.9C781.3 133.0 781.7 133.2 782.0 133.3C782.3 133.4 782.7 133.6 783.0 133.7C783.3 133.8 783.7 134.0 784.0 134.1C784.3 134.2 784.7 134.3 785.0 134.5C785.3 134.6 785.7 134.7 786.0 134.8C786.3 134.9 786.7 135.0 787.0 135.1C787.3 135.3 787.7 135.4 788.0 135.5C788.3 135.6 788.7 135.7 789.0 135.7C789.3 135.8 789.7 135.9 790.0 136.0C790.3 136.1 790.7 136.1 791.0 136.2C791.3 136.3 791.7 136.3 792.0 136.4C792.3 136.5 792.7 136.5 793.0 136.5C793.3 136.6 793.7 136.6 794.0 136.7C794.3 136.7 794.7 136.7 795.0 136.7C795.3 136.8 795.7 136.8 796.0 136.8C796.3 136.8 796.7 136.8 797.0 136.8C797.3 136.8 797.7 136.8 798.0 136.8C798.3 136.8 798.7 136.8 799.0 136.7C799.3 136.7 799.7 136.7 800.0 136.6C800.3 136.6 800.7 136.6 801.0 136.5C801.3 136.5 801.7 136.4 802.0 136.4C802.3 136.3 802.7 136.2 803.0 136.2C803.3 136.1 803.7 136.0 804.0 135.9C804.3 135.9 804.7 135.8 805.0 135.7C805.3 135.6 805.7 135.5 806.0 135.4C806.3 135.3 806.7 135.2 807.0 135.1C807.3 135.0 807.7 134.9 808.0 134.8C808.3 134.7 808.7 134.6 809.0 134.4C809.3 134.3 809.7 134.2 810.0 134.1C810.3 134.0 810.7 133.9 811.0 133.7C811.3 133.6 811.7 133.5 812.0 133.4C812.3 133.3 812.7 133.2 813.0 133.0C813.3 132.9 813.7 132.8 814.0 132.7C814.3 132.6 814.7 132.5 815.0 132.4C815.3 132.3 815.7 132.2 816.0 132.1C816.3 132.0 816.7 131.9 817.0 131.8C817.3 131.7 817.7 131.6 818.0 131.5C818.3 131.5 818.7 131.4 819.0 131.3C819.3 131.3 819.7 131.2 820.0 131.1C820.3 131.1 820.7 131.0 821.0 131.0C821.3 130.9 821.7 130.9 822.0 130.9C822.3 130.9 822.7 130.8 823.0 130.8C823.3 130.8 823.7 130.8 824.0 130.8C824.3 130.8 824.7 130.9 825.0 130.9C825.3 130.9 825.7 131.0 826.0 131.0C826.3 131.1 826.7 131.1 827.0 131.2C827.3 131.3 827.7 131.4 828.0 131.5C828.3 131.6 828.7 131.7 829.0 131.8C829.3 132.0 829.7 132.1 830.0 132.3C830.3 132.5 830.7 132.7 831.0 133.0C831.3 133.3 831.7 133.6 832.0 133.9C832.3 134.3 832.7 134.7 833.0 135.1C833.3 135.6 833.7 136.1 834.0 136.7C834.3 137.3 834.7 137.9 835.0 138.6C835.3 139.2 835.7 140.0 836.0 140.7C836.3 141.5 836.7 142.2 837.0 143.0C837.3 143.8 837.7 144.6 838.0 145.4C838.3 146.2 838.7 147.0 839.0 147.8C839.3 148.7 839.7 149.5 840.0 150.4C840.3 151.3 840.7 152.3 841.0 153.2C841.3 154.2 841.7 155.2 842.0 156.3C842.3 157.4 842.7 158.5 843.0 159.7C843.3 160.8 843.7 162.0 844.0 163.3C844.3 164.5 844.7 165.8 845.0 167.0C845.3 168.3 845.7 169.6 846.0 170.9C846.3 172.3 846.7 173.6 847.0 174.9C847.3 176.2 847.7 177.6 848.0 178.9C848.3 180.2 848.7 181.5 849.0 182.8C849.1 183.2 849.2 183.6 849.3 184.0" stroke="#0066cc"/>
<path d="M43.0 86.1C44.3 86.1 45.7 86.2 47.0 86.2C48.3 86.2 49.7 86.3 51.0 86.3C52.3 86.4 53.7 86.4 55.0 86.5C56.3 86.5 57.7 86.6 59.0 86.7C60.3 86.7 61.7 86.8 63.0 86.9C64.3 86.9 65.7 87.0 67.0 87.1C68.3 87.2 69.7 87.3 71.0 87.4C72.3 87.5 73.7 87.6 75.0 87.7C76.3 87.8 77.7 87.9 79.0 88.0C80.3 88.1 81.7 88.2 83.0 88.3C84.3 88.4 85.7 88.5 87.0 88.6C88.3 88.7 89.7 88.8 91.0 88.9C92.3 89.0 93.7 89.2 95.0 89.3C96.3 89.4 97.7 89.5 99.0 89.6C100.3 89.7 101.7 89.8 103.0 89.9C104.3 90.1 105.7 90.2 107.0 90.3C108.3 90.4 109.7 90.5 111.0 90.6C112.3 90.7 113.7 90.8 115.0 90.9C116.3 91.1 117.7 91.2 119.0 91.3C120.3 91.4 121.7 91.5 123.0 91.6C124.3 91.7 125.7 91.8 127.0 91.8C128.3 91.9 129.7 92.0 131.0 92.1C132.3 92.2 133.7 92.3 135.0 92.4C136.3 92.4 137.7 92.5 139.0 92.6C140.3 92.6 141.7 92.7 143.0 92.8C144.3 92.8 145.7 92.9 147.0 92.9C148.3 93.0 149.7 93.0 151.0 93.1C152.3 93.1 153.7 93.1 155.0 93.1C156.3 93.2 157.7 93.2 159.0 93.2C160.3 93.2 161.7 93.2 163.0 93.2C164.3 93.2 165.7 93.2 167.0 93.2C168.3 93.2 169.7 93.2 171.0 93.1C172.3 93.1 173.7 93.1 175.0 93.1C176.3 93.1 177.7 93.0 179.0 93.0C180.3 93.0 181.7 93.0 183.0 92.9C184.3 92.9 185.7 92.9 187.0 92.9C188.3 92.8 189.7 92.8 191.0 92.8C192.3 92.8 193.7 92.8 195.0 92.8C196.3 92.8 197.7 92.8 199.0 92.8C200.3 92.8 201.7 92.8 203.0 92.8C204.3 92.8 205.7 92.8 207.0 92.9C208.3 92.9 209.7 93.0 211.0 93.0C212.3 93.1 213.7 93.1 215.0 93.2C216.3 93.3 217.7 93.3 219.0 93.4C220.3 93.5 221.7 93.6 223.0 93.7C224.3 93.8 225.7 93.9 227.0 94.0C228.3 94.1 229.7 94.2 231.0 94.3C232.3 94.4 233.7 94.6 235.0 94.7C236.3 94.8 237.7 94.9 239.0 95.0C240.3 95.1 241.7 95.3 243.0 95.4C244.3 95.5 245.7 95.6 247.0 95.7C248.3 95.8 249.7 96.0 251.0 96.1C252.3 96.2 253.7 96.3 255.0 96.4C256.3 96.5 257.7 96.6 259.0 96.7C260.3 96.8 261.7 96.9 263.0 97.0C264.3 97.0 265.7 97.1 267.0 97.2C268.3 97.3 269.7 97.3 271.0 97.4C272.3 97.4 273.7 97.4 275.0 97.5C276.3 97.5 277.7 97.5 279.0 97.5C280.3 97.5 281.7 97.5 283.0 97.5C284.3 97.5 285.7 97.4 287.0 97.4C288.3 97.3 289.7 97.3 291.0 97.2C292.3 97.1 293.7 97.0 295.0 96.9C296.3 96.8 297.7 96.6 299.0 96.5C300.3 96.3 301.7 96.1 303.0 95.9C304.3 95.7 305.7 95.5 307.0 95.3C308.3 95.1 309.7 94.8 311.0 94.6C312.3 94.3 313.7 94.0 315.0 93.8C316.3 93.5 317.7 93.2 319.0 92.9C320.3 92.6 321.7 92.3 323.0 92.0C324.3 91.7 325.7 91.3 327.0 91.0C328.3 90.7 329.7 90.4 331.0 90.0C332.3 89.7 333.7 89.4 335.0 89.1C336.3 88.7 337.7 88.4 339.0 88.1C340.3 87.7 341.7 87.4 343.0 87.1C344.3 86.8 345.7 86.5 347.0 86.1C348.3 85.8 349.7 85.5 351.0 85.2C352.3 84.9 353.7 84.6 355.0 84.3C356.3 84.0 357.7 83.7 359.0 83.4C360.3 83.2 361.7 82.9 363.0 82.6C364.3 82.4 365.7 82.1 367.0 81.9C368.3 81.7 369.7 81.4 371.0 81.2C372.3 81.0 373.7 80.8 375.0 80.6C376.3 80.4 377.7 80.3 379.0 80.1C380.3 80.0 381.7 79.8 383.0 79.6C384.3 79.5 385.7 79.4 387.0 79.2C388.3 79.1 389.7 78.9 391.0 78.8C392.3 78.6 393.7 78.5 395.0 78.3C396.3 78.2 397.7 78.0 399.0 77.8C400.3 77.5 401.7 77.2 403.0 76.7C404.3 76.3 405.7 75.7 407.0 75.2C408.3 74.6 409.7 74.1 411.0 73.7C412.3 73.3 413.7 73.0 415.0 72.8C416.3 72.6 417.7 72.5 419.0 72.5C420.3 72.6 421.7 72.7 423.0 73.0C424.3 73.3 425.7 73.7 427.0 74.2C428.3 74.7 429.7 75.3 431.0 76.0C432.3 76.7 433.7 77.4 435.0 78.2C436.3 79.0 437.7 79.8 439.0 80.6C440.3 81.4 441.7 82.2 443.0 83.0C444.3 83.8 445.7 84.5 447.0 85.2C448.3 85.8 449.7 86.4 451.0 87.0C452.3 87.5 453.7 88.0 455.0 88.4C456.3 88.7 457.7 89.0 459.0 89.2C460.3 89.3 461.7 89.4 463.0 89.4C464.3 89.4 465.7 89.3 467.0 89.2C468.3 89.0 469.7 88.8 471.0 88.6C472.3 88.4 473.7 88.2 475.0 87.9C476.3 87.7 477.7 87.4 479.0 87.2C480.3 87.0 481.7 86.7 483.0 86.5C484.3 86.3 485.7 86.1 487.0 85.9C488.3 85.7 489.7 85.6 491.0 85.4C492.3 85.3 493.7 85.2 495.0 85.2C496.3 85.1 497.7 85.1 499.0 85.1C500.3 85.0 501.7 85.0 503.0 85.0C504.3 85.0 505.7 85.0 507.0 85.0C508.3 85.0 509.7 85.0 511.0 85.0C512.3 85.0 513.7 85.0 515.0 85.0C516.3 85.0 517.7 85.0 519.0 85.1C520.3 85.1 521.7 85.1 523.0 85.2C524.3 85.2 525.7 85.3 527.0 85.4C528.3 85.5 529.7 85.7 531.0 85.9C532.3 86.1 533.7 86.3 535.0 86.6C536.3 86.8 537.7 87.1 539.0 87.5C540.3 87.8 541.7 88.2 543.0 88.6C544.3 89.0 545.7 89.4 547.0 89.9C548.3 90.3 549.7 90.7 551.0 91.2C552.3 91.6 553.7 92.0 555.0 92.4C556.3 92.8 557.7 93.2 559.0 93.6C560.3 93.9 561.7 94.3 563.0 94.6C564.3 94.8 565.7 95.1 567.0 95.3C568.3 95.6 569.7 95.8 571.0 96.0C572.3 96.2 573.7 96.4 575.0 96.6C576.3 96.8 577.7 97.0 579.0 97.3C580.3 97.5 581.7 97.8 583.0 98.1C584.3 98.5 585.7 98.8 587.0 99.2C588.3 99.7 589.7 100.1 591.0 100.6C592.3 101.0 593.7 101.4 595.0 101.8C596.3 102.2 597.7 102.6 599.0 102.8C600.3 103.1 601.7 103.2 603.0 103.3C604.3 103.3 605.7 103.2 607.0 103.1C608.3 102.9 609.7 102.6 611.0 102.3C612.3 102.0 613.7 101.6 615.0 101.2C616.3 100.8 617.7 100.3 619.0 99.8C620.3 99.4 621.7 98.9 623.0 98.4C624.3 97.9 625.7 97.5 627.0 97.1C628.3 96.6 629.7 96.2 631.0 95.9C632.3 95.6 633.7 95.3 635.0 95.1C636.3 95.0 637.7 94.8 639.0 94.8C640.3 94.7 641.7 94.7 643.0 94.8C644.3 94.8 645.7 94.9 647.0 95.1C648.3 95.2 649.7 95.4 651.0 95.6C652.3 95.9 653.7 96.1 655.0 96.4C656.3 96.7 657.7 97.1 659.0 97.4C660.3 97.8 661.7 98.2 663.0 98.6C664.3 99.0 665.7 99.4 667.0 99.8C668.3 100.2 669.7 100.6 671.0 101.0C672.3 101.5 673.7 101.9 675.0 102.2C676.3 102.6 677.7 103.0 679.0 103.3C680.3 103.6 681.7 103.8 683.0 104.0C684.3 104.2 685.7 104.4 687.0 104.6C688.3 104.7 689.7 104.9 691.0 105.1C692.3 105.3 693.7 105.5 695.0 105.8C696.3 106.0 697.7 106.3 699.0 106.7C700.3 107.1 701.7 107.6 703.0 108.1C703.7 108.4 704.3 108.7 705.0 109.0C705.7 109.3 706.3 109.6 707.0 110.0C707.7 110.3 708.3 110.7 709.0 111.1C709.7 111.5 710.3 111.9 711.0 112.3C711.7 112.7 712.3 113.2 713.0 113.6C713.7 114.1 714.3 114.5 715.0 115.0C715.7 115.5 716.3 116.0 717.0 116.6C717.7 117.1 718.3 117.7 719.0 118.2C719.7 118.8 720.3 119.4 721.0 120.1C721.7 120.7 722.3 121.4 723.0 122.1C723.7 122.8 724.3 123.5 725.0 124.2C725.7 125.0 726.3 125.8 727.0 126.6C727.7 127.5 728.3 128.3 729.0 129.2C729.7 130.1 730.3 131.1 731.0 132.0C731.7 132.9 732.3 133.8 733.0 134.7C733.7 135.6 734.3 136.5 735.0 137.3C735.7 138.1 736.3 138.9 737.0 139.7C737.7 140.4 738.3 141.2 739.0 141.9C739.7 142.6 740.3 143.3 741.0 143.9C741.7 144.6 742.3 145.3 743.0 145.9C743.7 146.6 744.3 147.2 745.0 147.8C745.7 148.5 746.3 149.1 747.0 149.7C747.7 150.3 748.3 150.9 749.0 151.6C749.7 152.2 750.3 152.8 751.0 153.4C751.7 154.0 752.3 154.7 753.0 155.2C753.7 155.8 754.3 156.4 755.0 156.9C755.7 157.4 756.3 157.8 757.0 158.3C757.7 158.7 758.3 159.0 759.0 159.4C759.7 159.7 760.3 159.9 761.0 160.1C761.7 160.2 762.3 160.3 763.0 160.4C763.7 160.5 764.3 160.5 765.0 160.6C765.7 160.6 766.3 160.7 767.0 160.7C767.7 160.8 768.3 160.9 769.0 161.0C769.7 161.1 770.3 161.3 771.0 161.6C771.3 161.7 771.7 161.8 772.0 162.0C772.3 162.2 772.7 162.4 773.0 162.6C773.3 162.8 773.7 163.0 774.0 163.3C774.3 163.6 774.7 163.9 775.0 164.2C775.3 164.5 775.7 164.9 776.0 165.2C776.3 165.6 776.7 165.9 777.0 166.3C777.3 166.6 777.7 167.0 778.0 167.3C778.3 167.7 778.7 168.0 779.0 168.3C779.3 168.6 779.7 168.9 780.0 169.2C780.3 169.5 780.7 169.8 781.0 170.1C781.3 170.4 781.7 170.6 782.0 170.9C782.3 171.2 782.7 171.5 783.0 171.7C783.3 172.0 783.7 172.3 784.0 172.5C784.3 172.8 784.7 173.1 785.0 173.4C785.3 173.6 785.7 173.9 786.0 174.2C786.3 174.5 786.7 174.8 787.0 175.1C787.3 175.4 787.7 175.7 788.0 176.0C788.3 176.2 788.7 176.5 789.0 176.8C789.3 177.1 789.7 177.4 790.0 177.7C790.3 178.0 790.7 178.2 791.0 178.5C791.3 178.8 791.7 179.0 792.0 179.3C792.3 179.6 792.7 179.8 793.0 180.1C793.3 180.3 793.7 180.5 794.0 180.8C794.3 181.0 794.7 181.2 795.0 181.4C795.3 181.6 795.7 181.8 796.0 182.0C796.3 182.2 796.7 182.4 797.0 182.6C797.3 182.7 797.7 182.9 798.0 183.0C798.3 183.2 798.7 183.3 799.0 183.5C799.3 183.6 799.7 183.7 800.0 183.8C800.3 183.9 800.7 184.0 801.0 184.1C801.3 184.2 801.7 184.2 802.0 184.3C802.3 184.3 802.7 184.4 803.0 184.4C803.3 184.4 803.7 184.4 804.0 184.4C804.3 184.4 804.7 184.4 805.0 184.4C805.3 184.4 805.7 184.3 806.0 184.3C806.3 184.2 806.7 184.1 807.0 184.1C807.3 184.0 807.7 183.9 808.0 183.8C808.3 183.6 808.7 183.5 809.0 183.4C809.3 183.3 809.7 183.2 810.0 183.1C810.3 183.0 810.7 182.9 811.0 182.9C811.3 182.8 811.7 182.8 812.0 182.7C812.3 182.7 812.7 182.8 813.0 182.8C813.3 182.9 813.7 183.0 814.0 183.2C814.3 183.3 814.7 183.6 815.0 183.8C815.3 184.1 815.7 184.4 816.0 184.7C816.3 185.0 816.7 185.4 817.0 185.7C817.3 186.1 817.7 186.5 818.0 186.9C818.3 187.3 818.7 187.6 819.0 188.0C819.3 188.4 819.7 188.9 820.0 189.3C820.3 189.7 820.7 190.1 821.0 190.6C821.3 191.0 821.7 191.5 822.0 191.9C822.3 192.4 822.7 192.9 823.0 193.4C823.3 194.0 823.7 194.5 824.0 195.1C824.3 195.6 824.7 196.2 825.0 196.9C825.3 197.5 825.7 198.1 826.0 198.8C826.3 199.5 826.7 200.3 827.0 201.1C827.3 201.9 827.7 202.8 828.0 203.7C828.3 204.7 828.7 205.7 829.0 206.8C829.3 207.8 829.7 209.0 830.0 210.3C830.3 211.6 830.7 212.9 831.0 214.4C831.3 215.8 831.7 217.3 832.0 218.8C832.3 220.4 832.7 222.0 833.0 223.6C833.3 225.2 833.7 226.8 834.0 228.4C834.3 230.0 834.7 231.7 835.0 233.3C835.3 234.9 835.7 236.4 836.0 237.9C836.3 239.4 836.7 240.8 837.0 242.0C837.3 243.2 837.7 244.2 838.0 245.0C838.3 245.8 838.7 246.3 839.0 246.5C839.3 246.7 839.7 246.6 840.0 246.0C840.3 245.5 840.7 244.7 841.0 243.6C841.3 242.4 841.7 241.1 842.0 239.5C842.3 238.0 842.7 236.2 843.0 234.4C843.3 232.6 843.7 230.8 844.0 229.0C844.3 227.2 844.7 225.5 845.0 224.0C845.3 222.5 845.7 221.2 846.0 220.0C846.3 218.8 846.7 217.7 847.0 216.8C847.3 215.8 847.7 215.0 848.0 214.2C848.3 213.4 848.7 212.7 849.0 212.0C849.1 211.8 849.2 211.6 849.3 211.4" stroke="#994c00"/>
<path d="M43.0 88.1C44.3 88.2 45.7 88.4 47.0 88.5C48.3 88.6 49.7 88.8 51.0 88.9C52.3 89.1 53.7 89.2 55.0 89.3C56.3 89.5 57.7 89.6 59.0 89.8C60.3 89.9 61.7 90.1 63.0 90.2C64.3 90.4 65.7 90.5 67.0 90.7C68.3 90.8 69.7 91.0 71.0 91.1C72.3 91.3 73.7 91.4 75.0 91.6C76.3 91.7 77.7 91.9 79.0 92.0C80.3 92.2 81.7 92.3 83.0 92.5C84.3 92.6 85.7 92.7 87.0 92.9C88.3 93.0 89.7 93.2 91.0 93.3C92.3 93.5 93.7 93.6 95.0 93.8C96.3 93.9 97.7 94.1 99.0 94.2C100.3 94.3 101.7 94.5 103.0 94.6C104.3 94.8 105.7 94.9 107.0 95.0C108.3 95.2 109.7 95.3 111.0 95.4C112.3 95.6 113.7 95.7 115.0 95.8C116.3 96.0 117.7 96.1 119.0 96.2C120.3 96.3 121.7 96.5 123.0 96.6C124.3 96.7 125.7 96.8 127.0 96.9C128.3 97.0 129.7 97.2 131.0 97.3C132.3 97.4 133.7 97.5 135.0 97.6C136.3 97.7 137.7 97.8 139.0 97.9C140.3 98.0 141.7 98.1 143.0 98.2C144.3 98.3 145.7 98.3 147.0 98.4C148.3 98.5 149.7 98.6 151.0 98.7C152.3 98.7 153.7 98.8 155.0 98.9C156.3 98.9 157.7 99.0 159.0 99.1C160.3 99.1 161.7 99.2 163.0 99.2C164.3 99.3 165.7 99.3 167.0 99.4C168.3 99.4 169.7 99.4 171.0 99.4C172.3 99.5 173.7 99.5 175.0 99.5C176.3 99.4 177.7 99.4 179.0 99.4C180.3 99.4 181.7 99.3 183.0 99.2C184.3 99.2 185.7 99.1 187.0 99.0C188.3 99.0 189.7 98.9 191.0 98.8C192.3 98.7 193.7 98.6 195.0 98.5C196.3 98.4 197.7 98.4 199.0 98.3C200.3 98.2 201.7 98.1 203.0 98.1C204.3 98.0 205.7 98.0 207.0 97.9C208.3 97.9 209.7 97.9 211.0 97.9C212.3 97.9 213.7 97.9 215.0 97.9C216.3 98.0 217.7 98.0 219.0 98.1C220.3 98.1 221.7 98.2 223.0 98.3C224.3 98.4 225.7 98.5 227.0 98.6C228.3 98.7 229.7 98.8 231.0 99.0C232.3 99.1 233.7 99.2 235.0 99.4C236.3 99.6 237.7 99.7 239.0 99.9C240.3 100.1 241.7 100.3 243.0 100.5C244.3 100.7 245.7 100.9 247.0 101.1C248.3 101.3 249.7 101.5 251.0 101.7C252.3 102.0 253.7 102.2 255.0 102.4C256.3 102.7 257.7 102.9 259.0 103.1C260.3 103.3 261.7 103.5 263.0 103.7C264.3 103.9 265.7 104.1 267.0 104.3C268.3 104.4 269.7 104.6 271.0 104.7C272.3 104.8 273.7 104.9 275.0 105.0C276.3 105.0 277.7 105.0 279.0 105.1C280.3 105.1 281.7 105.0 283.0 105.0C284.3 104.9 285.7 104.9 287.0 104.8C288.3 104.7 289.7 104.5 291.0 104.4C292.3 104.2 293.7 104.0 295.0 103.8C296.3 103.6 297.7 103.3 299.0 103.1C300.3 102.8 301.7 102.5 303.0 102.1C304.3 101.8 305.7 101.4 307.0 101.1C308.3 100.7 309.7 100.3 311.0 99.9C312.3 99.5 313.7 99.1 315.0 98.7C316.3 98.3 317.7 97.9 319.0 97.5C320.3 97.1 321.7 96.8 323.0 96.4C324.3 96.0 325.7 95.7 327.0 95.4C328.3 95.1 329.7 94.8 331.0 94.5C332.3 94.3 333.7 94.0 335.0 93.8C336.3 93.6 337.7 93.4 339.0 93.2C340.3 93.0 341.7 92.9 343.0 92.7C344.3 92.5 345.7 92.3 347.0 92.0C348.3 91.8 349.7 91.5 351.0 91.2C352.3 90.9 353.7 90.6 355.0 90.3C356.3 89.9 357.7 89.6 359.0 89.2C360.3 88.9 361.7 88.5 363.0 88.1C364.3 87.8 365.7 87.4 367.0 87.1C368.3 86.8 369.7 86.5 371.0 86.2C372.3 85.9 373.7 85.7 375.0 85.5C376.3 85.3 377.7 85.2 379.0 85.1C380.3 85.0 381.7 84.8 383.0 84.7C384.3 84.6 385.7 84.5 387.0 84.4C388.3 84.3 389.7 84.1 391.0 84.0C392.3 83.8 393.7 83.6 395.0 83.3C396.3 83.0 397.7 82.7 399.0 82.3C400.3 81.9 401.7 81.6 403.0 81.2C404.3 80.8 405.7 80.4 407.0 80.0C408.3 79.6 409.7 79.2 411.0 78.9C412.3 78.6 413.7 78.3 415.0 78.1C416.3 77.9 417.7 77.8 419.0 77.8C420.3 77.8 421.7 78.0 423.0 78.2C424.3 78.5 425.7 78.9 427.0 79.4C428.3 80.0 429.7 80.7 431.0 81.4C432.3 82.2 433.7 83.0 435.0 83.8C436.3 84.6 437.7 85.4 439.0 86.2C440.3 86.9 441.7 87.6 443.0 88.2C444.3 88.8 445.7 89.4 447.0 89.8C448.3 90.3 449.7 90.7 451.0 91.1C452.3 91.5 453.7 91.8 455.0 92.0C456.3 92.3 457.7 92.5 459.0 92.6C460.3 92.8 461.7 92.9 463.0 92.9C464.3 92.9 465.7 92.9 467.0 92.7C468.3 92.5 469.7 92.2 471.0 91.8C472.3 91.4 473.7 90.8 475.0 90.1C476.3 89.5 477.7 88.8 479.0 88.3C480.3 87.7 481.7 87.3 483.0 87.1C484.3 86.8 485.7 86.7 487.0 86.6C488.3 86.5 489.7 86.4 491.0 86.4C492.3 86.3 493.7 86.3 495.0 86.3C496.3 86.3 497.7 86.3 499.0 86.4C500.3 86.4 501.7 86.5 503.0 86.5C504.3 86.6 505.7 86.7 507.0 86.7C508.3 86.8 509.7 86.9 511.0 87.0C512.3 87.0 513.7 87.1 515.0 87.2C516.3 87.3 517.7 87.4 519.0 87.5C520.3 87.6 521.7 87.8 523.0 87.9C524.3 88.1 525.7 88.2 527.0 88.4C528.3 88.6 529.7 88.8 531.0 89.0C532.3 89.2 533.7 89.5 535.0 89.8C536.3 90.1 537.7 90.4 539.0 90.7C540.3 91.0 541.7 91.4 543.0 91.7C544.3 92.1 545.7 92.5 547.0 92.9C548.3 93.2 549.7 93.6 551.0 94.0C552.3 94.4 553.7 94.8 555.0 95.2C556.3 95.5 557.7 95.9 559.0 96.2C560.3 96.6 561.7 96.9 563.0 97.2C564.3 97.5 565.7 97.8 567.0 98.1C568.3 98.3 569.7 98.6 571.0 98.9C572.3 99.1 573.7 99.4 575.0 99.7C576.3 100.0 577.7 100.3 579.0 100.6C580.3 100.9 581.7 101.2 583.0 101.6C584.3 102.0 585.7 102.5 587.0 102.9C588.3 103.4 589.7 103.9 591.0 104.3C592.3 104.8 593.7 105.2 595.0 105.6C596.3 105.9 597.7 106.2 599.0 106.4C600.3 106.6 601.7 106.7 603.0 106.6C604.3 106.5 605.7 106.2 607.0 105.9C608.3 105.6 609.7 105.2 611.0 104.7C612.3 104.3 613.7 103.8 615.0 103.3C616.3 102.8 617.7 102.3 619.0 101.9C620.3 101.5 621.7 101.2 623.0 100.9C624.3 100.6 625.7 100.4 627.0 100.2C628.3 100.0 629.7 99.8 631.0 99.6C632.3 99.5 633.7 99.2 635.0 99.0C636.3 98.8 637.7 98.7 639.0 98.7C640.3 98.7 641.7 98.9 643.0 99.3C644.3 99.8 645.7 100.5 647.0 101.3C648.3 102.1 649.7 102.9 651.0 103.7C652.3 104.4 653.7 105.2 655.0 105.9C656.3 106.6 657.7 107.2 659.0 107.9C660.3 108.5 661.7 109.1 663.0 109.6C664.3 110.1 665.7 110.6 667.0 111.1C668.3 111.6 669.7 112.2 671.0 112.7C672.3 113.2 673.7 113.8 675.0 114.5C676.3 115.1 677.7 115.8 679.0 116.6C680.3 117.3 681.7 118.1 683.0 118.8C684.3 119.5 685.7 120.1 687.0 120.7C688.3 121.3 689.7 121.8 691.0 122.1C692.3 122.5 693.7 122.7 695.0 122.9C696.3 123.0 697.7 123.1 699.0 123.3C700.3 123.4 701.7 123.6 703.0 123.9C703.7 124.0 704.3 124.2 705.0 124.4C705.7 124.6 706.3 124.8 707.0 125.1C707.7 125.3 708.3 125.6 709.0 125.9C709.7 126.3 710.3 126.6 711.0 127.0C711.7 127.4 712.3 127.9 713.0 128.4C713.7 128.9 714.3 129.4 715.0 130.0C715.7 130.6 716.3 131.2 717.0 131.9C717.7 132.5 718.3 133.2 719.0 134.0C719.7 134.8 720.3 135.6 721.0 136.4C721.7 137.2 722.3 138.1 723.0 139.0C723.7 139.9 724.3 140.8 725.0 141.7C725.7 142.6 726.3 143.6 727.0 144.6C727.7 145.6 728.3 146.6 729.0 147.6C729.7 148.6 730.3 149.6 731.0 150.7C731.7 151.7 732.3 152.8 733.0 153.9C733.7 154.9 734.3 156.0 735.0 157.1C735.7 158.2 736.3 159.4 737.0 160.5C737.7 161.6 738.3 162.7 739.0 163.9C739.7 165.0 740.3 166.1 741.0 167.2C741.7 168.4 742.3 169.5 743.0 170.6C743.7 171.6 744.3 172.7 745.0 173.8C745.7 174.8 746.3 175.8 747.0 176.8C747.7 177.8 748.3 178.8 749.0 179.7C749.7 180.7 750.3 181.6 751.0 182.5C751.7 183.4 752.3 184.3 753.0 185.2C753.7 186.0 754.3 186.9 755.0 187.7C755.7 188.5 756.3 189.2 757.0 189.8C757.7 190.4 758.3 191.0 759.0 191.4C759.7 191.8 760.3 192.1 761.0 192.3C761.7 192.5 762.3 192.6 763.0 192.6C763.7 192.7 764.3 192.7 765.0 192.7C765.7 192.7 766.3 192.7 767.0 192.7C767.7 192.7 768.3 192.8 769.0 193.0C769.7 193.1 770.3 193.4 771.0 193.8C771.3 194.0 771.7 194.2 772.0 194.4C772.3 194.7 772.7 194.9 773.0 195.2C773.3 195.5 773.7 195.8 774.0 196.2C774.3 196.5 774.7 196.9 775.0 197.2C775.3 197.6 775.7 198.0 776.0 198.4C776.3 198.8 776.7 199.3 777.0 199.7C777.3 200.1 777.7 200.6 778.0 201.0C778.3 201.5 778.7 202.0 779.0 202.4C779.3 202.9 779.7 203.4 780.0 203.9C780.3 204.4 780.7 204.9 781.0 205.4C781.3 205.9 781.7 206.4 782.0 206.9C782.3 207.5 782.7 208.0 783.0 208.5C783.3 209.0 783.7 209.6 784.0 210.1C784.3 210.7 784.7 211.2 785.0 211.8C785.3 212.3 785.7 212.9 786.0 213.4C786.3 214.0 786.7 214.5 787.0 215.1C787.3 215.7 787.7 216.3 788.0 216.8C788.3 217.4 788.7 218.0 789.0 218.6C789.3 219.2 789.7 219.8 790.0 220.4C790.3 221.0 790.7 221.6 791.0 222.2C791.3 222.8 791.7 223.5 792.0 224.1C792.3 224.7 792.7 225.4 793.0 226.0C793.3 226.6 793.7 227.3 794.0 227.9C794.3 228.6 794.7 229.3 795.0 229.9C795.3 230.6 795.7 231.3 796.0 232.0C796.3 232.6 796.7 233.3 797.0 234.0C797.3 234.7 797.7 235.4 798.0 236.1C798.3 236.9 798.7 237.6 799.0 238.3C799.3 239.0 799.7 239.8 800.0 240.5C800.3 241.2 800.7 241.9 801.0 242.6C801.3 243.3 801.7 244.0 802.0 244.7C802.3 245.3 802.7 245.9 803.0 246.5C803.3 247.1 803.7 247.6 804.0 248.1C804.3 248.6 804.7 249.0 805.0 249.4C805.3 249.8 805.7 250.1 806.0 250.3C806.3 250.6 806.7 250.8 807.0 251.0C807.3 251.2 807.7 251.3 808.0 251.5C808.3 251.6 808.7 251.8 809.0 252.0C809.3 252.1 809.7 252.3 810.0 252.5C810.3 252.8 810.7 253.0 811.0 253.3C811.3 253.7 811.7 254.0 812.0 254.5C812.3 254.9 812.7 255.4 813.0 255.9C813.3 256.4 813.7 257.0 814.0 257.5C814.3 258.1 814.7 258.6 815.0 259.2C815.3 259.7 815.7 260.2 816.0 260.7C816.3 261.2 816.7 261.6 817.0 262.0C817.3 262.3 817.7 262.6 818.0 262.8C818.3 263.0 818.7 263.1 819.0 263.1C819.3 263.1 819.7 263.0 820.0 262.8C820.3 262.5 820.7 262.2 821.0 261.7C821.3 261.2 821.7 260.7 822.0 260.0C822.3 259.3 822.7 258.6 823.0 257.7C823.3 256.9 823.7 256.0 824.0 255.1C824.3 254.2 824.7 253.3 825.0 252.3C825.3 251.3 825.7 250.3 826.0 249.3C826.3 248.3 826.7 247.3 827.0 246.3C827.3 245.3 827.7 244.2 828.0 243.2C828.3 242.2 828.7 241.2 829.0 240.2C829.3 239.2 829.7 238.2 830.0 237.2C830.3 236.2 830.7 235.3 831.0 234.3C831.3 233.4 831.7 232.5 832.0 231.6C832.3 230.8 832.7 229.9 833.0 229.1C833.3 228.3 833.7 227.5 834.0 226.8C834.3 226.0 834.7 225.3 835.0 224.5C835.3 223.8 835.7 223.0 836.0 222.3C836.3 221.5 836.7 220.8 837.0 220.0C837.3 219.2 837.7 218.4 838.0 217.6C838.3 216.8 838.7 215.9 839.0 215.0C839.3 214.2 839.7 213.3 840.0 212.3C840.3 211.4 840.7 210.5 841.0 209.6C841.3 208.7 841.7 207.8 842.0 206.9C842.3 206.0 842.7 205.2 843.0 204.3C843.3 203.5 843.7 202.7 844.0 202.0C844.3 201.2 844.7 200.5 845.0 199.9C845.3 199.2 845.7 198.6 846.0 198.1C846.3 197.5 846.7 197.1 847.0 196.6C847.3 196.2 847.7 195.8 848.0 195.5C848.3 195.2 848.7 195.0 849.0 194.8C849.1 194.8 849.2 194.7 849.3 194.7" stroke="#008080"/>
<path d="M43.0 89.4C44.3 89.6 45.7 89.8 47.0 89.9C48.3 90.1 49.7 90.3 51.0 90.4C52.3 90.6 53.7 90.8 55.0 90.9C56.3 91.1 57.7 91.3 59.0 91.5C60.3 91.7 61.7 91.8 63.0 92.0C64.3 92.2 65.7 92.4 67.0 92.6C68.3 92.7 69.7 92.9 71.0 93.1C72.3 93.3 73.7 93.5 75.0 93.7C76.3 93.8 77.7 94.0 79.0 94.2C80.3 94.4 81.7 94.6 83.0 94.8C84.3 95.0 85.7 95.1 87.0 95.3C88.3 95.5 89.7 95.7 91.0 95.9C92.3 96.1 93.7 96.3 95.0 96.5C96.3 96.6 97.7 96.8 99.0 97.0C100.3 97.2 101.7 97.4 103.0 97.5C104.3 97.7 105.7 97.9 107.0 98.1C108.3 98.3 109.7 98.4 111.0 98.6C112.3 98.8 113.7 99.0 115.0 99.1C116.3 99.3 117.7 99.5 119.0 99.7C120.3 99.8 121.7 100.0 123.0 100.2C124.3 100.3 125.7 100.5 127.0 100.6C128.3 100.8 129.7 100.9 131.0 101.1C132.3 101.3 133.7 101.4 135.0 101.5C136.3 101.7 137.7 101.8 139.0 102.0C140.3 102.1 141.7 102.3 143.0 102.4C144.3 102.5 145.7 102.7 147.0 102.8C148.3 102.9 149.7 103.0 151.0 103.1C152.3 103.3 153.7 103.4 155.0 103.5C156.3 103.6 157.7 103.7 159.0 103.8C160.3 103.9 161.7 103.9 163.0 104.0C164.3 104.1 165.7 104.2 167.0 104.2C168.3 104.2 169.7 104.3 171.0 104.3C172.3 104.3 173.7 104.3 175.0 104.3C176.3 104.3 177.7 104.3 179.0 104.2C180.3 104.2 181.7 104.1 183.0 104.0C184.3 104.0 185.7 103.9 187.0 103.8C188.3 103.6 189.7 103.5 191.0 103.4C192.3 103.3 193.7 103.1 195.0 103.0C196.3 102.9 197.7 102.7 199.0 102.6C200.3 102.4 201.7 102.3 203.0 102.2C204.3 102.0 205.7 101.9 207.0 101.8C208.3 101.7 209.7 101.6 211.0 101.5C212.3 101.4 213.7 101.3 215.0 101.2C216.3 101.1 217.7 101.1 219.0 101.0C220.3 101.0 221.7 101.0 223.0 101.0C224.3 101.0 225.7 101.1 227.0 101.1C228.3 101.2 229.7 101.3 231.0 101.4C232.3 101.5 233.7 101.7 235.0 101.9C236.3 102.1 237.7 102.3 239.0 102.5C240.3 102.7 241.7 103.0 243.0 103.3C244.3 103.5 245.7 103.8 247.0 104.1C248.3 104.4 249.7 104.7 251.0 105.1C252.3 105.4 253.7 105.7 255.0 106.0C256.3 106.4 257.7 106.7 259.0 107.1C260.3 107.4 261.7 107.7 263.0 108.1C264.3 108.4 265.7 108.7 267.0 109.1C268.3 109.4 269.7 109.7 271.0 109.9C272.3 110.2 273.7 110.5 275.0 110.7C276.3 110.9 277.7 111.1 279.0 111.2C280.3 111.3 281.7 111.4 283.0 111.5C284.3 111.5 285.7 111.5 287.0 111.5C288.3 111.4 289.7 111.3 291.0 111.1C292.3 110.9 293.7 110.7 295.0 110.4C296.3 110.1 297.7 109.8 299.0 109.4C300.3 109.0 301.7 108.6 303.0 108.1C304.3 107.6 305.7 107.2 307.0 106.7C308.3 106.2 309.7 105.6 311.0 105.1C312.3 104.6 313.7 104.1 315.0 103.6C316.3 103.0 317.7 102.5 319.0 102.0C320.3 101.5 321.7 101.1 323.0 100.6C324.3 100.2 325.7 99.7 327.0 99.4C328.3 99.0 329.7 98.6 331.0 98.3C332.3 98.0 333.7 97.8 335.0 97.6C336.3 97.4 337.7 97.2 339.0 97.0C340.3 96.8 341.7 96.7 343.0 96.5C344.3 96.4 345.7 96.2 347.0 96.0C348.3 95.9 349.7 95.7 351.0 95.5C352.3 95.2 353.7 95.0 355.0 94.7C356.3 94.5 357.7 94.2 359.0 93.9C360.3 93.6 361.7 93.3 363.0 93.0C364.3 92.7 365.7 92.4 367.0 92.1C368.3 91.8 369.7 91.4 371.0 91.1C372.3 90.8 373.7 90.5 375.0 90.2C376.3 90.0 377.7 89.7 379.0 89.5C380.3 89.2 381.7 89.0 383.0 88.8C384.3 88.7 385.7 88.5 387.0 88.4C388.3 88.4 389.7 88.3 391.0 88.2C392.3 88.1 393.7 87.9 395.0 87.7C396.3 87.5 397.7 87.1 399.0 86.8C400.3 86.4 401.7 86.0 403.0 85.6C404.3 85.1 405.7 84.7 407.0 84.3C408.3 83.9 409.7 83.5 411.0 83.1C412.3 82.8 413.7 82.6 415.0 82.4C416.3 82.2 417.7 82.1 419.0 82.2C420.3 82.2 421.7 82.3 423.0 82.6C424.3 82.9 425.7 83.4 427.0 84.0C428.3 84.6 429.7 85.3 431.0 86.0C432.3 86.6 433.7 87.3 435.0 88.0C436.3 88.7 437.7 89.3 439.0 89.9C440.3 90.5 441.7 91.1 443.0 91.7C444.3 92.2 445.7 92.8 447.0 93.3C448.3 93.8 449.7 94.2 451.0 94.7C452.3 95.1 453.7 95.5 455.0 95.8C456.3 96.1 457.7 96.3 459.0 96.5C460.3 96.6 461.7 96.7 463.0 96.6C464.3 96.6 465.7 96.4 467.0 96.0C468.3 95.7 469.7 95.3 471.0 94.8C472.3 94.3 473.7 93.8 475.0 93.2C476.3 92.7 477.7 92.2 479.0 91.7C480.3 91.2 481.7 90.9 483.0 90.5C484.3 90.2 485.7 89.9 487.0 89.8C488.3 89.6 489.7 89.4 491.0 89.3C492.3 89.2 493.7 89.2 495.0 89.2C496.3 89.2 497.7 89.2 499.0 89.2C500.3 89.3 501.7 89.4 503.0 89.5C504.3 89.5 505.7 89.7 507.0 89.8C508.3 89.9 509.7 90.0 511.0 90.2C512.3 90.3 513.7 90.5 515.0 90.6C516.3 90.8 517.7 90.9 519.0 91.1C520.3 91.2 521.7 91.3 523.0 91.5C524.3 91.6 525.7 91.8 527.0 91.9C528.3 92.1 529.7 92.3 531.0 92.4C532.3 92.6 533.7 92.8 535.0 93.0C536.3 93.2 537.7 93.4 539.0 93.6C540.3 93.9 541.7 94.1 543.0 94.4C544.3 94.6 545.7 94.9 547.0 95.2C548.3 95.6 549.7 95.9 551.0 96.3C552.3 96.6 553.7 97.0 555.0 97.4C556.3 97.8 557.7 98.1 559.0 98.5C560.3 98.9 561.7 99.3 563.0 99.6C564.3 100.0 565.7 100.3 567.0 100.6C568.3 100.9 569.7 101.3 571.0 101.6C572.3 101.9 573.7 102.2 575.0 102.5C576.3 102.8 577.7 103.1 579.0 103.5C580.3 103.8 581.7 104.2 583.0 104.5C584.3 104.9 585.7 105.3 587.0 105.7C588.3 106.2 589.7 106.6 591.0 107.0C592.3 107.4 593.7 107.7 595.0 108.0C596.3 108.3 597.7 108.5 599.0 108.6C600.3 108.7 601.7 108.7 603.0 108.5C604.3 108.3 605.7 108.0 607.0 107.6C608.3 107.1 609.7 106.6 611.0 106.1C612.3 105.5 613.7 104.9 615.0 104.3C616.3 103.7 617.7 103.1 619.0 102.6C620.3 102.0 621.7 101.5 623.0 101.1C624.3 100.7 625.7 100.3 627.0 100.0C628.3 99.7 629.7 99.5 631.0 99.3C632.3 99.2 633.7 99.1 635.0 99.1C636.3 99.1 637.7 99.2 639.0 99.3C640.3 99.5 641.7 99.7 643.0 100.1C644.3 100.4 645.7 100.8 647.0 101.4C648.3 102.0 649.7 102.8 651.0 103.7C652.3 104.6 653.7 105.8 655.0 107.0C656.3 108.2 657.7 109.4 659.0 110.4C660.3 111.4 661.7 112.1 663.0 112.6C664.3 113.1 665.7 113.4 667.0 113.9C668.3 114.4 669.7 115.0 671.0 115.8C672.3 116.5 673.7 117.3 675.0 118.2C676.3 119.1 677.7 120.0 679.0 120.9C680.3 121.8 681.7 122.7 683.0 123.6C684.3 124.5 685.7 125.3 687.0 126.2C688.3 127.1 689.7 127.9 691.0 128.7C692.3 129.4 693.7 130.2 695.0 130.8C696.3 131.5 697.7 132.0 699.0 132.6C700.3 133.2 701.7 133.8 703.0 134.5C703.7 134.8 704.3 135.2 705.0 135.5C705.7 135.9 706.3 136.3 707.0 136.7C707.7 137.1 708.3 137.6 709.0 138.1C709.7 138.6 710.3 139.1 711.0 139.7C711.7 140.3 712.3 140.9 713.0 141.6C713.7 142.2 714.3 142.9 715.0 143.7C715.7 144.4 716.3 145.2 717.0 146.0C717.7 146.8 718.3 147.7 719.0 148.5C719.7 149.4 720.3 150.3 721.0 151.3C721.7 152.2 722.3 153.2 723.0 154.2C723.7 155.2 724.3 156.3 725.0 157.4C725.7 158.5 726.3 159.6 727.0 160.8C727.7 162.1 728.3 163.4 729.0 164.7C729.7 166.0 730.3 167.4 731.0 168.7C731.7 170.0 732.3 171.3 733.0 172.5C733.7 173.7 734.3 174.8 735.0 175.8C735.7 176.8 736.3 177.7 737.0 178.7C737.7 179.6 738.3 180.5 739.0 181.5C739.7 182.5 740.3 183.5 741.0 184.7C741.7 185.9 742.3 187.1 743.0 188.5C743.7 189.9 744.3 191.4 745.0 192.9C745.7 194.4 746.3 196.0 747.0 197.6C747.7 199.2 748.3 200.9 749.0 202.6C749.7 204.2 750.3 205.9 751.0 207.5C751.7 209.1 752.3 210.6 753.0 212.1C753.7 213.5 754.3 214.9 755.0 216.1C755.7 217.3 756.3 218.4 757.0 219.3C757.7 220.2 758.3 220.9 759.0 221.4C759.7 221.9 760.3 222.1 761.0 222.1C761.7 222.1 762.3 222.0 763.0 221.8C763.7 221.6 764.3 221.3 765.0 221.2C765.7 221.0 766.3 221.0 767.0 221.2C767.7 221.4 768.3 221.8 769.0 222.4C769.7 223.0 770.3 223.8 771.0 224.5C771.3 224.9 771.7 225.2 772.0 225.6C772.3 226.0 772.7 226.3 773.0 226.7C773.3 227.1 773.7 227.4 774.0 227.8C774.3 228.2 774.7 228.6 775.0 229.0C775.3 229.4 775.7 229.9 776.0 230.3C776.3 230.7 776.7 231.2 777.0 231.7C777.3 232.1 777.7 232.6 778.0 233.1C778.3 233.6 778.7 234.1 779.0 234.6C779.3 235.2 779.7 235.7 780.0 236.3C780.3 236.8 780.7 237.4 781.0 238.0C781.3 238.6 781.7 239.2 782.0 239.8C782.3 240.4 782.7 241.1 783.0 241.7C783.3 242.4 783.7 243.1 784.0 243.8C784.3 244.4 784.7 245.1 785.0 245.9C785.3 246.6 785.7 247.3 786.0 248.1C786.3 248.8 786.7 249.7 787.0 250.6C787.3 251.6 787.7 252.7 788.0 254.0C788.3 255.4 788.7 257.1 789.0 258.8C789.3 260.6 789.7 262.2 790.0 263.6C790.3 265.0 790.7 266.2 791.0 267.7C791.3 269.1 791.7 270.7 792.0 272.5C792.3 274.3 792.7 276.3 793.0 278.3C793.3 280.4 793.7 282.5 794.0 284.7C794.3 287.0 794.7 289.3 795.0 291.6C795.3 294.0 795.7 296.4 796.0 298.9C796.3 301.4 796.7 303.9 797.0 306.4C797.3 308.9 797.7 311.6 798.0 314.0C798.3 316.3 798.7 318.2 799.0 318.4C799.3 318.6 799.7 317.2 800.0 315.0C800.3 312.9 800.7 310.1 801.0 307.0C801.3 303.9 801.7 300.3 802.0 296.6C802.3 292.9 802.7 289.4 803.0 286.2C803.3 283.1 803.7 280.2 804.0 277.6C804.3 275.0 804.7 272.6 805.0 270.2C805.3 267.8 805.7 265.3 806.0 262.7C806.3 260.1 806.7 257.4 807.0 254.9C807.3 252.4 807.7 250.2 808.0 248.4C808.3 246.7 808.7 245.2 809.0 243.9C809.3 242.6 809.7 241.4 810.0 240.1C810.3 238.7 810.7 237.3 811.0 235.7C811.3 234.2 811.7 232.5 812.0 230.8C812.3 229.1 812.7 227.4 813.0 225.9C813.3 224.4 813.7 223.0 814.0 221.8C814.3 220.6 814.7 219.5 815.0 218.4C815.3 217.4 815.7 216.5 816.0 215.6C816.3 214.7 816.7 213.9 817.0 213.0C817.3 212.2 817.7 211.4 818.0 210.7C818.3 209.9 818.7 209.2 819.0 208.5C819.3 207.9 819.7 207.2 820.0 206.6C820.3 206.1 820.7 205.5 821.0 205.0C821.3 204.5 821.7 204.1 822.0 203.7C822.3 203.3 822.7 202.9 823.0 202.6C823.3 202.3 823.7 202.0 824.0 201.7C824.3 201.5 824.7 201.3 825.0 201.1C825.3 200.9 825.7 200.7 826.0 200.6C826.3 200.5 826.7 200.4 827.0 200.3C827.3 200.2 827.7 200.1 828.0 200.1C828.3 200.0 828.7 200.0 829.0 199.9C829.3 199.9 829.7 199.9 830.0 199.9C830.3 199.9 830.7 199.9 831.0 199.8C831.3 199.8 831.7 199.8 832.0 199.8C832.3 199.8 832.7 199.8 833.0 199.7C833.3 199.7 833.7 199.7 834.0 199.6C834.3 199.6 834.7 199.5 835.0 199.5C835.3 199.4 835.7 199.3 836.0 199.3C836.3 199.2 836.7 199.1 837.0 199.0C837.3 198.9 837.7 198.9 838.0 198.8C838.3 198.7 838.7 198.6 839.0 198.5C839.3 198.4 839.7 198.3 840.0 198.3C840.3 198.2 840.7 198.1 841.0 198.0C841.3 197.9 841.7 197.8 842.0 197.8C842.3 197.7 842.7 197.6 843.0 197.6C843.3 197.5 843.7 197.4 844.0 197.4C844.3 197.3 844.7 197.3 845.0 197.2C845.3 197.2 845.7 197.2 846.0 197.1C846.3 197.1 846.7 197.1 847.0 197.1C847.3 197.1 847.7 197.1 848.0 197.2C848.3 197.2 848.7 197.2 849.0 197.3C849.1 197.3 849.2 197.3 849.3 197.3" stroke="#6600ff"/>
<path d="M43.0 91.2C44.3 91.3 45.7 91.5 47.0 91.7C48.3 91.8 49.7 92.0 51.0 92.2C52.3 92.4 53.7 92.6 55.0 92.7C56.3 92.9 57.7 93.1 59.0 93.3C60.3 93.5 61.7 93.7 63.0 94.0C64.3 94.2 65.7 94.4 67.0 94.6C68.3 94.8 69.7 95.0 71.0 95.2C72.3 95.5 73.7 95.7 75.0 95.9C76.3 96.2 77.7 96.4 79.0 96.6C80.3 96.8 81.7 97.1 83.0 97.3C84.3 97.6 85.7 97.8 87.0 98.0C88.3 98.3 89.7 98.5 91.0 98.8C92.3 99.0 93.7 99.3 95.0 99.5C96.3 99.8 97.7 100.0 99.0 100.2C100.3 100.5 101.7 100.7 103.0 101.0C104.3 101.2 105.7 101.5 107.0 101.7C108.3 102.0 109.7 102.2 111.0 102.5C112.3 102.7 113.7 103.0 115.0 103.2C116.3 103.5 117.7 103.7 119.0 104.0C120.3 104.2 121.7 104.5 123.0 104.7C124.3 104.9 125.7 105.2 127.0 105.4C128.3 105.7 129.7 105.9 131.0 106.1C132.3 106.4 133.7 106.6 135.0 106.8C136.3 107.0 137.7 107.3 139.0 107.5C140.3 107.7 141.7 107.9 143.0 108.2C144.3 108.4 145.7 108.6 147.0 108.8C148.3 109.0 149.7 109.2 151.0 109.4C152.3 109.6 153.7 109.8 155.0 110.0C156.3 110.2 157.7 110.4 159.0 110.6C160.3 110.7 161.7 110.9 163.0 111.1C164.3 111.3 165.7 111.4 167.0 111.6C168.3 111.7 169.7 111.8 171.0 111.9C172.3 112.0 173.7 112.1 175.0 112.1C176.3 112.1 177.7 112.1 179.0 112.1C180.3 112.1 181.7 112.0 183.0 111.9C184.3 111.8 185.7 111.7 187.0 111.5C188.3 111.4 189.7 111.2 191.0 111.0C192.3 110.8 193.7 110.6 195.0 110.3C196.3 110.1 197.7 109.9 199.0 109.7C200.3 109.4 201.7 109.2 203.0 109.0C204.3 108.8 205.7 108.6 207.0 108.4C208.3 108.2 209.7 108.0 211.0 107.8C212.3 107.7 213.7 107.5 215.0 107.4C216.3 107.3 217.7 107.2 219.0 107.1C220.3 107.0 221.7 107.0 223.0 106.9C224.3 106.9 225.7 106.9 227.0 106.9C228.3 107.0 229.7 107.0 231.0 107.1C232.3 107.1 233.7 107.2 235.0 107.4C236.3 107.5 237.7 107.6 239.0 107.8C240.3 108.0 241.7 108.2 243.0 108.5C244.3 108.7 245.7 109.0 247.0 109.3C248.3 109.6 249.7 109.9 251.0 110.3C252.3 110.6 253.7 111.0 255.0 111.5C256.3 111.9 257.7 112.3 259.0 112.8C260.3 113.2 261.7 113.7 263.0 114.1C264.3 114.6 265.7 115.0 267.0 115.4C268.3 115.9 269.7 116.3 271.0 116.7C272.3 117.1 273.7 117.5 275.0 117.8C276.3 118.2 277.7 118.5 279.0 118.8C280.3 119.0 281.7 119.3 283.0 119.4C284.3 119.6 285.7 119.7 287.0 119.8C288.3 119.8 289.7 119.8 291.0 119.7C292.3 119.6 293.7 119.5 295.0 119.3C296.3 119.0 297.7 118.8 299.0 118.4C300.3 118.1 301.7 117.7 303.0 117.3C304.3 116.8 305.7 116.3 307.0 115.8C308.3 115.2 309.7 114.6 311.0 113.9C312.3 113.3 313.7 112.6 315.0 111.9C316.3 111.2 317.7 110.5 319.0 109.8C320.3 109.1 321.7 108.4 323.0 107.7C324.3 107.1 325.7 106.5 327.0 105.9C328.3 105.4 329.7 104.9 331.0 104.5C332.3 104.1 333.7 103.8 335.0 103.6C336.3 103.3 337.7 103.2 339.0 103.0C340.3 102.9 341.7 102.7 343.0 102.7C344.3 102.6 345.7 102.5 347.0 102.4C348.3 102.3 349.7 102.2 351.0 102.1C352.3 101.9 353.7 101.8 355.0 101.6C356.3 101.4 357.7 101.2 359.0 101.0C360.3 100.8 361.7 100.6 363.0 100.4C364.3 100.2 365.7 100.0 367.0 99.8C368.3 99.6 369.7 99.4 371.0 99.2C372.3 99.0 373.7 98.8 375.0 98.6C376.3 98.5 377.7 98.3 379.0 98.2C380.3 98.0 381.7 97.9 383.0 97.7C384.3 97.6 385.7 97.4 387.0 97.3C388.3 97.1 389.7 97.0 391.0 96.8C392.3 96.6 393.7 96.4 395.0 96.2C396.3 96.0 397.7 95.7 399.0 95.5C400.3 95.2 401.7 94.9 403.0 94.5C404.3 94.2 405.7 93.8 407.0 93.4C408.3 92.9 409.7 92.4 411.0 91.9C412.3 91.4 413.7 90.8 415.0 90.5C416.3 90.1 417.7 89.9 419.0 90.1C420.3 90.2 421.7 90.6 423.0 91.1C424.3 91.5 425.7 92.0 427.0 92.5C428.3 93.0 429.7 93.8 431.0 94.9C432.3 96.1 433.7 97.2 435.0 98.1C436.3 98.9 437.7 99.6 439.0 100.1C440.3 100.7 441.7 101.1 443.0 101.5C444.3 101.8 445.7 102.1 447.0 102.3C448.3 102.5 449.7 102.7 451.0 102.9C452.3 103.1 453.7 103.3 455.0 103.4C456.3 103.5 457.7 103.6 459.0 103.7C460.3 103.7 461.7 103.7 463.0 103.5C464.3 103.4 465.7 103.1 467.0 102.7C468.3 102.4 469.7 101.9 471.0 101.4C472.3 100.9 473.7 100.4 475.0 99.9C476.3 99.4 477.7 98.9 479.0 98.5C480.3 98.1 481.7 97.8 483.0 97.6C484.3 97.4 485.7 97.2 487.0 97.2C488.3 97.1 489.7 97.1 491.0 97.1C492.3 97.2 493.7 97.2 495.0 97.3C496.3 97.4 497.7 97.5 499.0 97.6C500.3 97.7 501.7 97.7 503.0 97.8C504.3 97.9 505.7 97.9 507.0 98.0C508.3 98.1 509.7 98.2 511.0 98.3C512.3 98.4 513.7 98.5 515.0 98.6C516.3 98.7 517.7 98.9 519.0 99.1C520.3 99.3 521.7 99.5 523.0 99.7C524.3 99.9 525.7 100.1 527.0 100.3C528.3 100.5 529.7 100.7 531.0 100.9C532.3 101.1 533.7 101.2 535.0 101.4C536.3 101.6 537.7 101.7 539.0 101.9C540.3 102.1 541.7 102.3 543.0 102.5C544.3 102.7 545.7 103.0 547.0 103.3C548.3 103.6 549.7 104.0 551.0 104.4C552.3 104.8 553.7 105.3 555.0 105.8C556.3 106.2 557.7 106.7 559.0 107.2C560.3 107.7 561.7 108.1 563.0 108.5C564.3 109.0 565.7 109.3 567.0 109.7C568.3 110.1 569.7 110.4 571.0 110.7C572.3 111.1 573.7 111.4 575.0 111.7C576.3 111.9 577.7 112.2 579.0 112.5C580.3 112.8 581.7 113.1 583.0 113.4C584.3 113.7 585.7 114.0 587.0 114.3C588.3 114.6 589.7 114.9 591.0 115.2C592.3 115.5 593.7 115.7 595.0 115.9C596.3 116.0 597.7 116.1 599.0 116.0C600.3 116.0 601.7 115.8 603.0 115.5C604.3 115.2 605.7 114.7 607.0 114.2C608.3 113.7 609.7 113.0 611.0 112.4C612.3 111.8 613.7 111.1 615.0 110.5C616.3 109.8 617.7 109.2 619.0 108.7C620.3 108.1 621.7 107.7 623.0 107.3C624.3 107.0 625.7 106.7 627.0 106.4C628.3 106.2 629.7 106.0 631.0 105.8C632.3 105.6 633.7 105.3 635.0 105.1C636.3 104.9 637.7 104.7 639.0 104.7C640.3 104.7 641.7 104.8 643.0 105.2C644.3 105.5 645.7 106.1 647.0 106.8C648.3 107.5 649.7 108.4 651.0 109.2C652.3 110.1 653.7 110.9 655.0 111.7C656.3 112.6 657.7 113.4 659.0 114.2C660.3 115.0 661.7 115.7 663.0 116.5C664.3 117.3 665.7 118.1 667.0 118.8C668.3 119.6 669.7 120.4 671.0 121.1C672.3 121.9 673.7 122.7 675.0 123.4C676.3 124.2 677.7 125.0 679.0 125.8C680.3 126.6 681.7 127.4 683.0 128.2C684.3 129.0 685.7 129.8 687.0 130.7C688.3 131.5 689.7 132.4 691.0 133.3C692.3 134.2 693.7 135.1 695.0 136.0C696.3 137.0 697.7 137.9 699.0 139.0C700.3 140.0 701.7 141.1 703.0 142.3C703.7 142.9 704.3 143.6 705.0 144.2C705.7 144.9 706.3 145.6 707.0 146.3C707.7 147.0 708.3 147.8 709.0 148.6C709.7 149.4 710.3 150.2 711.0 151.1C711.7 152.0 712.3 152.9 713.0 153.9C713.7 154.9 714.3 155.9 715.0 157.0C715.7 158.0 716.3 159.1 717.0 160.3C717.7 161.4 718.3 162.6 719.0 163.8C719.7 165.0 720.3 166.3 721.0 167.6C721.7 168.9 722.3 170.2 723.0 171.6C723.7 172.9 724.3 174.4 725.0 175.8C725.7 177.2 726.3 178.7 727.0 180.3C727.7 181.8 728.3 183.4 729.0 185.0C729.7 186.6 730.3 188.2 731.0 189.9C731.7 191.6 732.3 193.3 733.0 195.1C733.7 196.9 734.3 198.6 735.0 200.0C735.7 201.5 736.3 202.7 737.0 203.9C737.7 205.0 738.3 206.0 739.0 207.1C739.7 208.1 740.3 209.2 741.0 210.4C741.7 211.7 742.3 213.0 743.0 214.4C743.7 215.8 744.3 217.4 745.0 219.0C745.7 220.6 746.3 222.2 747.0 224.0C747.7 225.8 748.3 227.6 749.0 229.5C749.7 231.4 750.3 233.4 751.0 235.4C751.7 237.4 752.3 239.5 753.0 241.4C753.7 243.3 754.3 245.2 755.0 246.8C755.7 248.5 756.3 249.9 757.0 251.0C757.7 252.2 758.3 253.0 759.0 253.5C759.7 254.0 760.3 254.2 761.0 254.2C761.7 254.3 762.3 254.2 763.0 254.0C763.7 253.9 764.3 253.7 765.0 253.7C765.7 253.6 766.3 253.7 767.0 254.0C767.7 254.2 768.3 254.7 769.0 255.2C769.7 255.8 770.3 256.6 771.0 257.5C771.3 257.9 771.7 258.4 772.0 258.9C772.3 259.5 772.7 260.0 773.0 260.6C773.3 261.2 773.7 261.8 774.0 262.5C774.3 263.1 774.7 263.8 775.0 264.5C775.3 265.2 775.7 265.9 776.0 266.6C776.3 267.3 776.7 268.0 777.0 268.7C777.3 269.5 777.7 270.2 778.0 270.9C778.3 271.6 778.7 272.3 779.0 273.1C779.3 273.8 779.7 274.5 780.0 275.2C780.3 275.9 780.7 276.6 781.0 277.4C781.3 278.2 781.7 279.0 782.0 279.8C782.3 280.6 782.7 281.5 783.0 282.4C783.3 283.3 783.7 284.3 784.0 285.3C784.3 286.4 784.7 287.5 785.0 288.6C785.3 289.8 785.7 291.1 786.0 292.4C786.3 293.8 786.7 295.2 787.0 296.7C787.3 298.2 787.7 299.8 788.0 301.5C788.3 303.1 788.7 304.8 789.0 306.6C789.3 308.4 789.7 310.2 790.0 312.1C790.3 314.1 790.7 316.2 791.0 319.0C791.3 321.9 791.7 329.3 792.0 334.9C792.3 340.6 792.7 340.6 793.0 335.0C793.3 329.4 793.7 321.9 794.0 319.0C794.3 316.0 794.7 313.9 795.0 311.2C795.3 308.6 795.7 305.6 796.0 302.5C796.3 299.4 796.7 296.2 797.0 293.2C797.3 290.2 797.7 287.4 798.0 284.9C798.3 282.3 798.7 279.9 799.0 277.8C799.3 275.7 799.7 273.8 800.0 271.9C800.3 270.1 800.7 268.3 801.0 266.4C801.3 264.5 801.7 262.4 802.0 260.3C802.3 258.1 802.7 255.9 803.0 253.9C803.3 251.8 803.7 249.9 804.0 248.3C804.3 246.8 804.7 245.4 805.0 244.1C805.3 242.9 805.7 241.7 806.0 240.4C806.3 239.1 806.7 237.7 807.0 236.3C807.3 234.9 807.7 233.4 808.0 232.0C808.3 230.5 808.7 229.1 809.0 227.7C809.3 226.4 809.7 225.2 810.0 224.0C810.3 222.9 810.7 221.8 811.0 220.8C811.3 219.8 811.7 218.9 812.0 218.0C812.3 217.1 812.7 216.3 813.0 215.4C813.3 214.6 813.7 213.7 814.0 212.9C814.3 212.1 814.7 211.3 815.0 210.5C815.3 209.7 815.7 208.9 816.0 208.2C816.3 207.4 816.7 206.8 817.0 206.1C817.3 205.5 817.7 205.0 818.0 204.5C818.3 204.0 818.7 203.6 819.0 203.2C819.3 202.8 819.7 202.5 820.0 202.3C820.3 202.0 820.7 201.8 821.0 201.7C821.3 201.5 821.7 201.4 822.0 201.3C822.3 201.3 822.7 201.2 823.0 201.2C823.3 201.2 823.7 201.2 824.0 201.3C824.3 201.3 824.7 201.4 825.0 201.5C825.3 201.5 825.7 201.6 826.0 201.7C826.3 201.8 826.7 201.9 827.0 202.0C827.3 202.2 827.7 202.3 828.0 202.3C828.3 202.4 828.7 202.5 829.0 202.6C829.3 202.7 829.7 202.7 830.0 202.7C830.3 202.8 830.7 202.8 831.0 202.8C831.3 202.8 831.7 202.8 832.0 202.7C832.3 202.7 832.7 202.7 833.0 202.6C833.3 202.5 833.7 202.5 834.0 202.4C834.3 202.3 834.7 202.2 835.0 202.2C835.3 202.1 835.7 202.0 836.0 201.9C836.3 201.8 836.7 201.7 837.0 201.5C837.3 201.4 837.7 201.3 838.0 201.2C838.3 201.1 838.7 201.0 839.0 200.9C839.3 200.8 839.7 200.7 840.0 200.6C840.3 200.5 840.7 200.4 841.0 200.3C841.3 200.2 841.7 200.1 842.0 200.1C842.3 200.0 842.7 199.9 843.0 199.9C843.3 199.9 843.7 199.8 844.0 199.8C844.3 199.8 844.7 199.8 845.0 199.9C845.3 199.9 845.7 200.0 846.0 200.1C846.3 200.2 846.7 200.4 847.0 200.7C847.3 200.9 847.7 201.2 848.0 201.6C848.3 202.0 848.7 202.4 849.0 202.9C849.1 203.1 849.2 203.3 849.3 203.5" stroke="#a000c4"/>
</g>
<g shape-rendering="crispEdges">
<rect x="39" y="208" width="811" height="1" fill="#000"/>
<rect x="179" y="18" width="1" height="306" fill="#000"/>
</g>
<!-- y axis -->
<text x="19.48" y="12.00" font-size="12.10px" fill="#151515" textLength="17.81" lengthAdjust="spacingAndGlyphs" stroke="#151515" stroke-width="0.2">SPL</text>
<text x="32.20" y="50.80" font-size="12.10px" fill="#383838" textLength="5.62" lengthAdjust="spacingAndGlyphs" stroke="#383838" stroke-width="0.12">5</text>
<text x="32.31" y="85.80" font-size="12.10px" fill="#383838" textLength="6.14" lengthAdjust="spacingAndGlyphs" stroke="#383838" stroke-width="0.12">0</text>
<text x="27.43" y="120.80" font-size="12.10px" fill="#383838" textLength="10.43" lengthAdjust="spacingAndGlyphs" stroke="#383838" stroke-width="0.12">-5</text>
<text x="21.43" y="155.80" font-size="12.10px" fill="#383838" textLength="17.04" lengthAdjust="spacingAndGlyphs" stroke="#383838" stroke-width="0.12">-10</text>
<text x="21.45" y="190.80" font-size="12.10px" fill="#383838" textLength="16.20" lengthAdjust="spacingAndGlyphs" stroke="#383838" stroke-width="0.12">-15</text>
<text x="21.43" y="224.80" font-size="12.10px" fill="#383838" textLength="17.04" lengthAdjust="spacingAndGlyphs" stroke="#383838" stroke-width="0.12">-20</text>
<text x="21.45" y="259.80" font-size="12.10px" fill="#383838" textLength="16.31" lengthAdjust="spacingAndGlyphs" stroke="#383838" stroke-width="0.12">-25</text>
<text x="21.43" y="294.80" font-size="12.10px" fill="#383838" textLength="17.04" lengthAdjust="spacingAndGlyphs" stroke="#383838" stroke-width="0.12">-30</text>
<text x="31.67" y="336.50" font-size="12.10px" fill="#333333" textLength="19.02" lengthAdjust="spacingAndGlyphs" stroke="#333333" stroke-width="0.12">400</text>
<text x="78.26" y="336.50" font-size="12.10px" fill="#333333" textLength="18.26" lengthAdjust="spacingAndGlyphs" stroke="#333333" stroke-width="0.12">500</text>
<text x="115.26" y="336.50" font-size="12.10px" fill="#333333" textLength="17.95" lengthAdjust="spacingAndGlyphs" stroke="#333333" stroke-width="0.12">600</text>
<text x="147.20" y="336.50" font-size="12.10px" fill="#333" textLength="18.48" lengthAdjust="spacingAndGlyphs" stroke="#333" stroke-width="0.12">700</text>
<text x="174.31" y="336.50" font-size="12.10px" fill="#333" textLength="18.36" lengthAdjust="spacingAndGlyphs" stroke="#333" stroke-width="0.12">800</text>
<text x="199.83" y="336.50" font-size="12.10px" fill="#333333" textLength="17.26" lengthAdjust="spacingAndGlyphs" stroke="#333333" stroke-width="0.12">900</text>
<text x="224.62" y="336.50" font-size="12.10px" fill="#333333" textLength="11.04" lengthAdjust="spacingAndGlyphs" stroke="#333333" stroke-width="0.12">1k</text>
<text x="367.05" y="336.50" font-size="12.10px" fill="#333333" textLength="11.61" lengthAdjust="spacingAndGlyphs" stroke="#333333" stroke-width="0.12">2k</text>
<text x="451.62" y="336.50" font-size="12.10px" fill="#333333" textLength="11.33" lengthAdjust="spacingAndGlyphs" stroke="#333333" stroke-width="0.12">3k</text>
<text x="511.08" y="336.50" font-size="12.10px" fill="#333333" textLength="11.48" lengthAdjust="spacingAndGlyphs" stroke="#333333" stroke-width="0.12">4k</text>
<text x="557.16" y="336.50" font-size="12.10px" fill="#333333" textLength="11.49" lengthAdjust="spacingAndGlyphs" stroke="#333333" stroke-width="0.12">5k</text>
<text x="595.15" y="336.50" font-size="12.10px" fill="#333333" textLength="11.56" lengthAdjust="spacingAndGlyphs" stroke="#333333" stroke-width="0.12">6k</text>
<text x="626.57" y="336.50" font-size="12.10px" fill="#333333" textLength="11.29" lengthAdjust="spacingAndGlyphs" stroke="#333333" stroke-width="0.12">7k</text>
<text x="654.17" y="336.50" font-size="12.10px" fill="#333333" textLength="11.29" lengthAdjust="spacingAndGlyphs" stroke="#333333" stroke-width="0.12">8k</text>
<text x="678.53" y="336.50" font-size="12.10px" fill="#333333" textLength="10.93" lengthAdjust="spacingAndGlyphs" stroke="#333333" stroke-width="0.12">9k</text>
<text x="697.19" y="336.50" font-size="12.10px" fill="#333333" textLength="17.38" lengthAdjust="spacingAndGlyphs" stroke="#333333" stroke-width="0.12">10k</text>
<text x="734.87" y="336.50" font-size="12.10px" fill="#999" textLength="17.90" lengthAdjust="spacingAndGlyphs" stroke="#999" stroke-width="0.12">12k</text>
<text x="766.35" y="336.50" font-size="12.10px" fill="#999" textLength="18.37" lengthAdjust="spacingAndGlyphs" stroke="#999" stroke-width="0.12">14k</text>
<text x="807.18" y="336.50" font-size="12.10px" fill="#999" textLength="17.69" lengthAdjust="spacingAndGlyphs" stroke="#999" stroke-width="0.12">17k</text>
<text x="833.03" y="336.50" font-size="12.10px" fill="#222" textLength="32.59" lengthAdjust="spacingAndGlyphs" stroke="#222" stroke-width="0.12">20kHz</text>
<g shape-rendering="crispEdges">
<rect x="7.5" y="200.5" width="31" height="16" fill="#fff" stroke="#0000ff" stroke-width="1"/>
<rect x="167.5" y="323.5" width="22" height="16" fill="#fff" stroke="#0000ff" stroke-width="1"/>
</g>
<text x="10.45" y="213.75" font-size="12.10px" fill="#0000ff" textLength="25.55" lengthAdjust="spacingAndGlyphs" stroke="#0000ff" stroke-width="0.12">-18,2</text>
<text x="170.16" y="336.90" font-size="12.10px" fill="#0000ff" textLength="18.15" lengthAdjust="spacingAndGlyphs" stroke="#0000ff" stroke-width="0.12">784</text>
<text x="4.82" y="363.90" font-size="12.10px" fill="#3d3dcf" textLength="29.77" lengthAdjust="spacingAndGlyphs" stroke="#3d3dcf" stroke-width="0.12">11: 0°</text>
<text x="274.46" y="363.90" font-size="12.10px" fill="#3d3dcf" textLength="32.62" lengthAdjust="spacingAndGlyphs" stroke="#3d3dcf" stroke-width="0.12">0,0 dB</text>
<g>
<path d="M172.0 360H182.5 M213.0 360H223.0" stroke="#3d3dcf" stroke-width="2" fill="none"/>
<rect x="183.4" y="352.0" width="28.6" height="16" rx="3.2" ry="3.2" fill="#fff" stroke="#3d3dcf" stroke-width="2"/>
<text x="186.38" y="362.70" font-size="10.00px" fill="#222" textLength="4.60" lengthAdjust="spacingAndGlyphs" stroke="#222" stroke-width="0.2">1</text>
<path d="M197.30 353.50L189.50 366.10" stroke="#1a1a1a" stroke-width="1.15" fill="none"/>
<text x="197.91" y="365.80" font-size="9.80px" fill="#222" textLength="10.49" lengthAdjust="spacingAndGlyphs" stroke="#222" stroke-width="0.3">48</text>
</g>
<text x="4.88" y="384.90" font-size="12.10px" fill="#009900" textLength="34.67" lengthAdjust="spacingAndGlyphs" stroke="#009900" stroke-width="0.12">13: 20°</text>
<text x="270.04" y="384.90" font-size="12.10px" fill="#009900" textLength="37.08" lengthAdjust="spacingAndGlyphs" stroke="#009900" stroke-width="0.12">-0,3 dB</text>
<g>
<path d="M172.0 381H182.5 M213.0 381H223.0" stroke="#009900" stroke-width="2" fill="none"/>
<rect x="183.4" y="373.0" width="28.6" height="16" rx="3.2" ry="3.2" fill="#fff" stroke="#009900" stroke-width="2"/>
<text x="186.38" y="383.70" font-size="10.00px" fill="#222" textLength="4.60" lengthAdjust="spacingAndGlyphs" stroke="#222" stroke-width="0.2">1</text>
<path d="M197.30 374.50L189.50 387.10" stroke="#1a1a1a" stroke-width="1.15" fill="none"/>
<text x="197.91" y="386.80" font-size="9.80px" fill="#222" textLength="10.49" lengthAdjust="spacingAndGlyphs" stroke="#222" stroke-width="0.3">48</text>
</g>
<text x="4.88" y="405.90" font-size="12.10px" fill="#994c00" textLength="34.67" lengthAdjust="spacingAndGlyphs" stroke="#994c00" stroke-width="0.12">15: 40°</text>
<text x="270.04" y="405.90" font-size="12.10px" fill="#994c00" textLength="37.08" lengthAdjust="spacingAndGlyphs" stroke="#994c00" stroke-width="0.12">-1,8 dB</text>
<g>
<path d="M172.0 402H182.5 M213.0 402H223.0" stroke="#994c00" stroke-width="2" fill="none"/>
<rect x="183.4" y="394.0" width="28.6" height="16" rx="3.2" ry="3.2" fill="#fff" stroke="#994c00" stroke-width="2"/>
<text x="186.38" y="404.70" font-size="10.00px" fill="#222" textLength="4.60" lengthAdjust="spacingAndGlyphs" stroke="#222" stroke-width="0.2">1</text>
<path d="M197.30 395.50L189.50 408.10" stroke="#1a1a1a" stroke-width="1.15" fill="none"/>
<text x="197.91" y="407.80" font-size="9.80px" fill="#222" textLength="10.49" lengthAdjust="spacingAndGlyphs" stroke="#222" stroke-width="0.3">48</text>
</g>
<text x="4.88" y="426.90" font-size="12.10px" fill="#6600ff" textLength="34.67" lengthAdjust="spacingAndGlyphs" stroke="#6600ff" stroke-width="0.12">17: 60°</text>
<text x="270.04" y="426.90" font-size="12.10px" fill="#6600ff" textLength="37.08" lengthAdjust="spacingAndGlyphs" stroke="#6600ff" stroke-width="0.12">-3,3 dB</text>
<g>
<path d="M172.0 423H182.5 M213.0 423H223.0" stroke="#6600ff" stroke-width="2" fill="none"/>
<rect x="183.4" y="415.0" width="28.6" height="16" rx="3.2" ry="3.2" fill="#fff" stroke="#6600ff" stroke-width="2"/>
<text x="186.38" y="425.70" font-size="10.00px" fill="#222" textLength="4.60" lengthAdjust="spacingAndGlyphs" stroke="#222" stroke-width="0.2">1</text>
<path d="M197.30 416.50L189.50 429.10" stroke="#1a1a1a" stroke-width="1.15" fill="none"/>
<text x="197.91" y="428.80" font-size="9.80px" fill="#222" textLength="10.49" lengthAdjust="spacingAndGlyphs" stroke="#222" stroke-width="0.3">48</text>
</g>
<text x="341.88" y="363.90" font-size="12.10px" fill="#e8730a" textLength="34.67" lengthAdjust="spacingAndGlyphs" stroke="#e8730a" stroke-width="0.12">12: 10°</text>
<text x="607.04" y="363.90" font-size="12.10px" fill="#e8730a" textLength="37.08" lengthAdjust="spacingAndGlyphs" stroke="#e8730a" stroke-width="0.12">-0,1 dB</text>
<g>
<path d="M509.0 360H519.5 M550.0 360H560.0" stroke="#e8730a" stroke-width="2" fill="none"/>
<rect x="520.4" y="352.0" width="28.6" height="16" rx="3.2" ry="3.2" fill="#fff" stroke="#e8730a" stroke-width="2"/>
<text x="523.38" y="362.70" font-size="10.00px" fill="#222" textLength="4.60" lengthAdjust="spacingAndGlyphs" stroke="#222" stroke-width="0.2">1</text>
<path d="M534.30 353.50L526.50 366.10" stroke="#1a1a1a" stroke-width="1.15" fill="none"/>
<text x="534.91" y="365.80" font-size="9.80px" fill="#222" textLength="10.49" lengthAdjust="spacingAndGlyphs" stroke="#222" stroke-width="0.3">48</text>
</g>
<text x="341.88" y="384.90" font-size="12.10px" fill="#0066cc" textLength="34.67" lengthAdjust="spacingAndGlyphs" stroke="#0066cc" stroke-width="0.12">14: 30°</text>
<text x="607.04" y="384.90" font-size="12.10px" fill="#0066cc" textLength="37.08" lengthAdjust="spacingAndGlyphs" stroke="#0066cc" stroke-width="0.12">-1,0 dB</text>
<g>
<path d="M509.0 381H519.5 M550.0 381H560.0" stroke="#0066cc" stroke-width="2" fill="none"/>
<rect x="520.4" y="373.0" width="28.6" height="16" rx="3.2" ry="3.2" fill="#fff" stroke="#0066cc" stroke-width="2"/>
<text x="523.38" y="383.70" font-size="10.00px" fill="#222" textLength="4.60" lengthAdjust="spacingAndGlyphs" stroke="#222" stroke-width="0.2">1</text>
<path d="M534.30 374.50L526.50 387.10" stroke="#1a1a1a" stroke-width="1.15" fill="none"/>
<text x="534.91" y="386.80" font-size="9.80px" fill="#222" textLength="10.49" lengthAdjust="spacingAndGlyphs" stroke="#222" stroke-width="0.3">48</text>
</g>
<text x="341.88" y="405.90" font-size="12.10px" fill="#008080" textLength="34.67" lengthAdjust="spacingAndGlyphs" stroke="#008080" stroke-width="0.12">16: 50°</text>
<text x="607.04" y="405.90" font-size="12.10px" fill="#008080" textLength="37.08" lengthAdjust="spacingAndGlyphs" stroke="#008080" stroke-width="0.12">-2,6 dB</text>
<g>
<path d="M509.0 402H519.5 M550.0 402H560.0" stroke="#008080" stroke-width="2" fill="none"/>
<rect x="520.4" y="394.0" width="28.6" height="16" rx="3.2" ry="3.2" fill="#fff" stroke="#008080" stroke-width="2"/>
<text x="523.38" y="404.70" font-size="10.00px" fill="#222" textLength="4.60" lengthAdjust="spacingAndGlyphs" stroke="#222" stroke-width="0.2">1</text>
<path d="M534.30 395.50L526.50 408.10" stroke="#1a1a1a" stroke-width="1.15" fill="none"/>
<text x="534.91" y="407.80" font-size="9.80px" fill="#222" textLength="10.49" lengthAdjust="spacingAndGlyphs" stroke="#222" stroke-width="0.3">48</text>
</g>
<text x="341.88" y="426.90" font-size="12.10px" fill="#a000c4" textLength="34.67" lengthAdjust="spacingAndGlyphs" stroke="#a000c4" stroke-width="0.12">18: 70°</text>
<text x="607.04" y="426.90" font-size="12.10px" fill="#a000c4" textLength="37.08" lengthAdjust="spacingAndGlyphs" stroke="#a000c4" stroke-width="0.12">-4,4 dB</text>
<g>
<path d="M509.0 423H519.5 M550.0 423H560.0" stroke="#a000c4" stroke-width="2" fill="none"/>
<rect x="520.4" y="415.0" width="28.6" height="16" rx="3.2" ry="3.2" fill="#fff" stroke="#a000c4" stroke-width="2"/>
<text x="523.38" y="425.70" font-size="10.00px" fill="#222" textLength="4.60" lengthAdjust="spacingAndGlyphs" stroke="#222" stroke-width="0.2">1</text>
<path d="M534.30 416.50L526.50 429.10" stroke="#1a1a1a" stroke-width="1.15" fill="none"/>
<text x="534.91" y="428.80" font-size="9.80px" fill="#222" textLength="10.49" lengthAdjust="spacingAndGlyphs" stroke="#222" stroke-width="0.3">48</text>
</g>
</svg>
</body></html>
